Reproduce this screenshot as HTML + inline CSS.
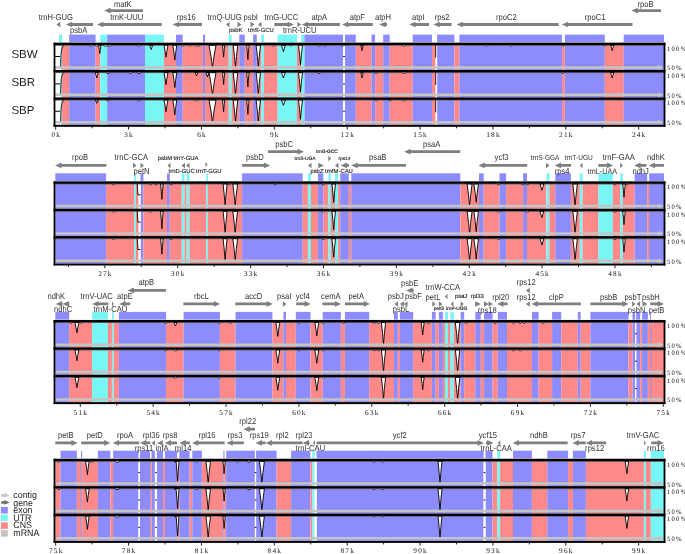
<!DOCTYPE html>
<html><head><meta charset="utf-8"><style>
html,body{margin:0;padding:0;background:#fff;width:685px;height:554px;overflow:hidden}
svg{display:block;will-change:transform}
text{font-family:"Liberation Sans",sans-serif;fill:#222;text-rendering:geometricPrecision}
.pc{font-family:"Liberation Serif",serif;font-size:6.6px;letter-spacing:1.3px;fill:#111}
.ax{font-family:"Liberation Serif",serif;font-size:7.3px;letter-spacing:1.2px;fill:#111}
.sb{font-size:11.5px;fill:#222}
.gl{fill:#333}
.lg{font-size:9.3px;fill:#222}
</style></head><body>
<svg width="685" height="554" viewBox="0 0 685 554">
<rect x="59" y="34.6" width="3.1" height="7.7" fill="#78f5f5"/>
<rect x="69.2" y="34.6" width="26.4" height="7.7" fill="#8c8cff"/>
<rect x="100.3" y="34.6" width="6.9" height="7.7" fill="#78f5f5"/>
<rect x="107.2" y="34.6" width="37.8" height="7.7" fill="#8c8cff"/>
<rect x="145" y="34.6" width="19" height="7.7" fill="#78f5f5"/>
<rect x="176" y="34.6" width="6.7" height="7.7" fill="#8c8cff"/>
<rect x="203" y="34.6" width="2.1" height="7.7" fill="#8c8cff"/>
<rect x="228.8" y="34.6" width="2.8" height="7.7" fill="#78f5f5"/>
<rect x="239.3" y="34.6" width="5.5" height="7.7" fill="#8c8cff"/>
<rect x="253.1" y="34.6" width="3.7" height="7.7" fill="#8c8cff"/>
<rect x="261.2" y="34.6" width="2.8" height="7.7" fill="#78f5f5"/>
<rect x="277.6" y="34.6" width="19.4" height="7.7" fill="#78f5f5"/>
<rect x="301.2" y="34.6" width="3.3" height="7.7" fill="#78f5f5"/>
<rect x="304.5" y="34.6" width="38.5" height="7.7" fill="#8c8cff"/>
<rect x="345" y="34.6" width="10.8" height="7.7" fill="#8c8cff"/>
<rect x="371.5" y="34.6" width="3.6" height="7.7" fill="#8c8cff"/>
<rect x="383.2" y="34.6" width="6.5" height="7.7" fill="#8c8cff"/>
<rect x="412.7" y="34.6" width="19.3" height="7.7" fill="#8c8cff"/>
<rect x="437.1" y="34.6" width="17.3" height="7.7" fill="#8c8cff"/>
<rect x="459.4" y="34.6" width="102.6" height="7.7" fill="#8c8cff"/>
<rect x="564.8" y="34.6" width="40" height="7.7" fill="#8c8cff"/>
<rect x="623.7" y="34.6" width="40.3" height="7.7" fill="#8c8cff"/>
<rect x="59" y="45.6" width="3.1" height="24.37" fill="#78f5f5"/>
<rect x="62.1" y="45.6" width="7.1" height="24.37" fill="#ff8888"/>
<rect x="69.2" y="45.6" width="26.4" height="24.37" fill="#8c8cff"/>
<rect x="95.6" y="45.6" width="4.7" height="24.37" fill="#ff8888"/>
<rect x="100.3" y="45.6" width="6.9" height="24.37" fill="#78f5f5"/>
<rect x="107.2" y="45.6" width="37.8" height="24.37" fill="#8c8cff"/>
<rect x="145" y="45.6" width="19" height="24.37" fill="#78f5f5"/>
<rect x="164" y="45.6" width="12" height="24.37" fill="#ff8888"/>
<rect x="176" y="45.6" width="6.7" height="24.37" fill="#8c8cff"/>
<rect x="182.7" y="45.6" width="20.3" height="24.37" fill="#ff8888"/>
<rect x="203" y="45.6" width="2.1" height="24.37" fill="#8c8cff"/>
<rect x="205.1" y="45.6" width="23.7" height="24.37" fill="#ff8888"/>
<rect x="228.8" y="45.6" width="2.8" height="24.37" fill="#78f5f5"/>
<rect x="231.6" y="45.6" width="7.7" height="24.37" fill="#ff8888"/>
<rect x="239.3" y="45.6" width="5.5" height="24.37" fill="#8c8cff"/>
<rect x="244.8" y="45.6" width="8.3" height="24.37" fill="#ff8888"/>
<rect x="253.1" y="45.6" width="3.7" height="24.37" fill="#8c8cff"/>
<rect x="256.8" y="45.6" width="4.4" height="24.37" fill="#ff8888"/>
<rect x="261.2" y="45.6" width="2.8" height="24.37" fill="#78f5f5"/>
<rect x="264" y="45.6" width="13.6" height="24.37" fill="#ff8888"/>
<rect x="277.6" y="45.6" width="19.4" height="24.37" fill="#78f5f5"/>
<rect x="297" y="45.6" width="4.2" height="24.37" fill="#ff8888"/>
<rect x="301.2" y="45.6" width="3.3" height="24.37" fill="#78f5f5"/>
<rect x="304.5" y="45.6" width="38.5" height="24.37" fill="#8c8cff"/>
<rect x="345" y="45.6" width="10.8" height="24.37" fill="#8c8cff"/>
<rect x="355.8" y="45.6" width="15.7" height="24.37" fill="#ff8888"/>
<rect x="371.5" y="45.6" width="3.6" height="24.37" fill="#8c8cff"/>
<rect x="375.1" y="45.6" width="8.1" height="24.37" fill="#ff8888"/>
<rect x="383.2" y="45.6" width="6.5" height="24.37" fill="#8c8cff"/>
<rect x="389.7" y="45.6" width="23" height="24.37" fill="#ff8888"/>
<rect x="412.7" y="45.6" width="19.3" height="24.37" fill="#8c8cff"/>
<rect x="432" y="45.6" width="3.6" height="24.37" fill="#ff8888"/>
<rect x="437.1" y="45.6" width="17.3" height="24.37" fill="#8c8cff"/>
<rect x="454.4" y="45.6" width="5" height="24.37" fill="#ff8888"/>
<rect x="459.4" y="45.6" width="102.6" height="24.37" fill="#8c8cff"/>
<rect x="562" y="45.6" width="2.8" height="24.37" fill="#ff8888"/>
<rect x="564.8" y="45.6" width="40" height="24.37" fill="#8c8cff"/>
<rect x="604.8" y="45.6" width="18.9" height="24.37" fill="#ff8888"/>
<rect x="623.7" y="45.6" width="40.3" height="24.37" fill="#8c8cff"/>
<rect x="55.5" y="45.6" width="5.5" height="24.37" fill="#fff"/>
<rect x="343" y="45.6" width="2" height="24.37" fill="#fff"/>
<rect x="435.6" y="45.6" width="1.5" height="24.37" fill="#fff"/>
<line x1="343.1" y1="56.51" x2="344.9" y2="56.51" stroke="#000" stroke-width="0.9"/>
<polygon points="98.6,45.2 99.3,49.6 99.8,53.6 100.3,49.6 101,45.2" fill="#fff" stroke="#000" stroke-width="0.9" stroke-linejoin="round"/>
<polygon points="149.7,45.2 150.57,47.6 151.2,49.6 151.83,47.6 152.7,45.2" fill="#fff" stroke="#000" stroke-width="0.9" stroke-linejoin="round"/>
<polygon points="164,45.2 165.16,51.4 166,57.2 166.84,51.4 168,45.2" fill="#fff" stroke="#000" stroke-width="0.9" stroke-linejoin="round"/>
<polygon points="172.8,45.2 173.96,52.9 174.8,60.2 175.64,52.9 176.8,45.2" fill="#fff" stroke="#000" stroke-width="0.9" stroke-linejoin="round"/>
<polygon points="209,45.2 211.03,56.51 212.5,67.42 213.97,56.51 216,45.2" fill="#fff" stroke="#000" stroke-width="0.9" stroke-linejoin="round"/>
<polygon points="222.5,45.2 223.14,51.35 223.6,57.1 224.06,51.35 224.7,45.2" fill="#fff" stroke="#000" stroke-width="0.9" stroke-linejoin="round"/>
<polygon points="233.2,45.2 234.53,56.51 235.5,67.42 236.47,56.51 237.8,45.2" fill="#fff" stroke="#000" stroke-width="0.9" stroke-linejoin="round"/>
<polygon points="246.7,45.2 247.4,52.6 247.9,59.6 248.4,52.6 249.1,45.2" fill="#fff" stroke="#000" stroke-width="0.9" stroke-linejoin="round"/>
<polygon points="256.1,45.2 257.38,56.51 258.3,67.42 259.22,56.51 260.5,45.2" fill="#fff" stroke="#000" stroke-width="0.9" stroke-linejoin="round"/>
<polygon points="281.4,45.2 282.56,48.6 283.4,51.6 284.24,48.6 285.4,45.2" fill="#fff" stroke="#000" stroke-width="0.9" stroke-linejoin="round"/>
<polygon points="298.5,45.2 299.66,55.1 300.5,64.6 301.34,55.1 302.5,45.2" fill="#fff" stroke="#000" stroke-width="0.9" stroke-linejoin="round"/>
<polygon points="360.8,45.2 361.5,48.1 362,50.6 362.5,48.1 363.2,45.2" fill="#fff" stroke="#000" stroke-width="0.9" stroke-linejoin="round"/>
<polygon points="610.6,45.2 611.53,48.1 612.2,50.6 612.87,48.1 613.8,45.2" fill="#fff" stroke="#000" stroke-width="0.9" stroke-linejoin="round"/>
<line x1="435.7" y1="45.1" x2="435.7" y2="57.6" stroke="#000" stroke-width="0.9"/>
<path d="M54.6,67.42 L60.6,67.42 C61.0,51.6 61.2,47.1 64,45.6" fill="none" stroke="#000" stroke-width="0.9"/>
<line x1="54.6" y1="56.51" x2="60" y2="56.51" stroke="#000" stroke-width="1"/>
<polygon points="54.6,66.17 658.2,66.17 658.2,65.02 664.5,67.42 658.2,69.82 658.2,68.67 54.6,68.67" fill="#c4c4c4"/>
<text x="666.9" y="50.5" class="pc">100%</text>
<text x="666.9" y="70.42" class="pc">50%</text>
<rect x="59" y="72.97" width="3.1" height="24.37" fill="#78f5f5"/>
<rect x="62.1" y="72.97" width="7.1" height="24.37" fill="#ff8888"/>
<rect x="69.2" y="72.97" width="26.4" height="24.37" fill="#8c8cff"/>
<rect x="95.6" y="72.97" width="4.7" height="24.37" fill="#ff8888"/>
<rect x="100.3" y="72.97" width="6.9" height="24.37" fill="#78f5f5"/>
<rect x="107.2" y="72.97" width="37.8" height="24.37" fill="#8c8cff"/>
<rect x="145" y="72.97" width="19" height="24.37" fill="#78f5f5"/>
<rect x="164" y="72.97" width="12" height="24.37" fill="#ff8888"/>
<rect x="176" y="72.97" width="6.7" height="24.37" fill="#8c8cff"/>
<rect x="182.7" y="72.97" width="20.3" height="24.37" fill="#ff8888"/>
<rect x="203" y="72.97" width="2.1" height="24.37" fill="#8c8cff"/>
<rect x="205.1" y="72.97" width="23.7" height="24.37" fill="#ff8888"/>
<rect x="228.8" y="72.97" width="2.8" height="24.37" fill="#78f5f5"/>
<rect x="231.6" y="72.97" width="7.7" height="24.37" fill="#ff8888"/>
<rect x="239.3" y="72.97" width="5.5" height="24.37" fill="#8c8cff"/>
<rect x="244.8" y="72.97" width="8.3" height="24.37" fill="#ff8888"/>
<rect x="253.1" y="72.97" width="3.7" height="24.37" fill="#8c8cff"/>
<rect x="256.8" y="72.97" width="4.4" height="24.37" fill="#ff8888"/>
<rect x="261.2" y="72.97" width="2.8" height="24.37" fill="#78f5f5"/>
<rect x="264" y="72.97" width="13.6" height="24.37" fill="#ff8888"/>
<rect x="277.6" y="72.97" width="19.4" height="24.37" fill="#78f5f5"/>
<rect x="297" y="72.97" width="4.2" height="24.37" fill="#ff8888"/>
<rect x="301.2" y="72.97" width="3.3" height="24.37" fill="#78f5f5"/>
<rect x="304.5" y="72.97" width="38.5" height="24.37" fill="#8c8cff"/>
<rect x="345" y="72.97" width="10.8" height="24.37" fill="#8c8cff"/>
<rect x="355.8" y="72.97" width="15.7" height="24.37" fill="#ff8888"/>
<rect x="371.5" y="72.97" width="3.6" height="24.37" fill="#8c8cff"/>
<rect x="375.1" y="72.97" width="8.1" height="24.37" fill="#ff8888"/>
<rect x="383.2" y="72.97" width="6.5" height="24.37" fill="#8c8cff"/>
<rect x="389.7" y="72.97" width="23" height="24.37" fill="#ff8888"/>
<rect x="412.7" y="72.97" width="19.3" height="24.37" fill="#8c8cff"/>
<rect x="432" y="72.97" width="3.6" height="24.37" fill="#ff8888"/>
<rect x="437.1" y="72.97" width="17.3" height="24.37" fill="#8c8cff"/>
<rect x="454.4" y="72.97" width="5" height="24.37" fill="#ff8888"/>
<rect x="459.4" y="72.97" width="102.6" height="24.37" fill="#8c8cff"/>
<rect x="562" y="72.97" width="2.8" height="24.37" fill="#ff8888"/>
<rect x="564.8" y="72.97" width="40" height="24.37" fill="#8c8cff"/>
<rect x="604.8" y="72.97" width="18.9" height="24.37" fill="#ff8888"/>
<rect x="623.7" y="72.97" width="40.3" height="24.37" fill="#8c8cff"/>
<rect x="55.5" y="72.97" width="5.5" height="24.37" fill="#fff"/>
<rect x="343" y="72.97" width="2" height="24.37" fill="#fff"/>
<rect x="435.6" y="72.97" width="1.5" height="24.37" fill="#fff"/>
<line x1="343.1" y1="83.88" x2="344.9" y2="83.88" stroke="#000" stroke-width="0.9"/>
<polygon points="95.3,72.57 96.17,75.47 96.8,77.97 97.43,75.47 98.3,72.57" fill="#fff" stroke="#000" stroke-width="0.9" stroke-linejoin="round"/>
<polygon points="164,72.57 165.16,78.87 166,84.77 166.84,78.87 168,72.57" fill="#fff" stroke="#000" stroke-width="0.9" stroke-linejoin="round"/>
<polygon points="172.8,72.57 173.96,80.32 174.8,87.67 175.64,80.32 176.8,72.57" fill="#fff" stroke="#000" stroke-width="0.9" stroke-linejoin="round"/>
<polygon points="195,72.57 195.87,74.47 196.5,75.97 197.13,74.47 198,72.57" fill="#fff" stroke="#000" stroke-width="0.9" stroke-linejoin="round"/>
<polygon points="206.3,72.57 207.17,74.47 207.8,75.97 208.43,74.47 209.3,72.57" fill="#fff" stroke="#000" stroke-width="0.9" stroke-linejoin="round"/>
<polygon points="205.9,72.57 206.77,74.97 207.4,76.97 208.03,74.97 208.9,72.57" fill="#fff" stroke="#000" stroke-width="0.9" stroke-linejoin="round"/>
<polygon points="209,72.57 211.03,83.88 212.5,94.79 213.97,83.88 216,72.57" fill="#fff" stroke="#000" stroke-width="0.9" stroke-linejoin="round"/>
<polygon points="222.5,72.57 223.14,78.72 223.6,84.47 224.06,78.72 224.7,72.57" fill="#fff" stroke="#000" stroke-width="0.9" stroke-linejoin="round"/>
<polygon points="233.2,72.57 234.53,83.88 235.5,94.79 236.47,83.88 237.8,72.57" fill="#fff" stroke="#000" stroke-width="0.9" stroke-linejoin="round"/>
<polygon points="246.7,72.57 247.4,79.97 247.9,86.97 248.4,79.97 249.1,72.57" fill="#fff" stroke="#000" stroke-width="0.9" stroke-linejoin="round"/>
<polygon points="256.1,72.57 257.38,83.88 258.3,94.79 259.22,83.88 260.5,72.57" fill="#fff" stroke="#000" stroke-width="0.9" stroke-linejoin="round"/>
<polygon points="281.4,72.57 282.56,75.47 283.4,77.97 284.24,75.47 285.4,72.57" fill="#fff" stroke="#000" stroke-width="0.9" stroke-linejoin="round"/>
<polygon points="298.5,72.57 299.66,82.47 300.5,91.97 301.34,82.47 302.5,72.57" fill="#fff" stroke="#000" stroke-width="0.9" stroke-linejoin="round"/>
<polygon points="360.8,72.57 361.5,75.47 362,77.97 362.5,75.47 363.2,72.57" fill="#fff" stroke="#000" stroke-width="0.9" stroke-linejoin="round"/>
<polygon points="610.6,72.57 611.53,75.47 612.2,77.97 612.87,75.47 613.8,72.57" fill="#fff" stroke="#000" stroke-width="0.9" stroke-linejoin="round"/>
<line x1="435.7" y1="72.47" x2="435.7" y2="84.97" stroke="#000" stroke-width="0.9"/>
<path d="M54.6,94.79 L60.6,94.79 C61.0,78.97 61.2,74.47 64,72.97" fill="none" stroke="#000" stroke-width="0.9"/>
<line x1="54.6" y1="83.88" x2="60" y2="83.88" stroke="#000" stroke-width="1"/>
<polygon points="54.6,93.54 658.2,93.54 658.2,92.39 664.5,94.79 658.2,97.19 658.2,96.04 54.6,96.04" fill="#c4c4c4"/>
<text x="666.9" y="77.87" class="pc">100%</text>
<text x="666.9" y="97.79" class="pc">50%</text>
<rect x="59" y="100.34" width="3.1" height="24.37" fill="#78f5f5"/>
<rect x="62.1" y="100.34" width="7.1" height="24.37" fill="#ff8888"/>
<rect x="69.2" y="100.34" width="26.4" height="24.37" fill="#8c8cff"/>
<rect x="95.6" y="100.34" width="4.7" height="24.37" fill="#ff8888"/>
<rect x="100.3" y="100.34" width="6.9" height="24.37" fill="#78f5f5"/>
<rect x="107.2" y="100.34" width="37.8" height="24.37" fill="#8c8cff"/>
<rect x="145" y="100.34" width="19" height="24.37" fill="#78f5f5"/>
<rect x="164" y="100.34" width="12" height="24.37" fill="#ff8888"/>
<rect x="176" y="100.34" width="6.7" height="24.37" fill="#8c8cff"/>
<rect x="182.7" y="100.34" width="20.3" height="24.37" fill="#ff8888"/>
<rect x="203" y="100.34" width="2.1" height="24.37" fill="#8c8cff"/>
<rect x="205.1" y="100.34" width="23.7" height="24.37" fill="#ff8888"/>
<rect x="228.8" y="100.34" width="2.8" height="24.37" fill="#78f5f5"/>
<rect x="231.6" y="100.34" width="7.7" height="24.37" fill="#ff8888"/>
<rect x="239.3" y="100.34" width="5.5" height="24.37" fill="#8c8cff"/>
<rect x="244.8" y="100.34" width="8.3" height="24.37" fill="#ff8888"/>
<rect x="253.1" y="100.34" width="3.7" height="24.37" fill="#8c8cff"/>
<rect x="256.8" y="100.34" width="4.4" height="24.37" fill="#ff8888"/>
<rect x="261.2" y="100.34" width="2.8" height="24.37" fill="#78f5f5"/>
<rect x="264" y="100.34" width="13.6" height="24.37" fill="#ff8888"/>
<rect x="277.6" y="100.34" width="19.4" height="24.37" fill="#78f5f5"/>
<rect x="297" y="100.34" width="4.2" height="24.37" fill="#ff8888"/>
<rect x="301.2" y="100.34" width="3.3" height="24.37" fill="#78f5f5"/>
<rect x="304.5" y="100.34" width="38.5" height="24.37" fill="#8c8cff"/>
<rect x="345" y="100.34" width="10.8" height="24.37" fill="#8c8cff"/>
<rect x="355.8" y="100.34" width="15.7" height="24.37" fill="#ff8888"/>
<rect x="371.5" y="100.34" width="3.6" height="24.37" fill="#8c8cff"/>
<rect x="375.1" y="100.34" width="8.1" height="24.37" fill="#ff8888"/>
<rect x="383.2" y="100.34" width="6.5" height="24.37" fill="#8c8cff"/>
<rect x="389.7" y="100.34" width="23" height="24.37" fill="#ff8888"/>
<rect x="412.7" y="100.34" width="19.3" height="24.37" fill="#8c8cff"/>
<rect x="432" y="100.34" width="3.6" height="24.37" fill="#ff8888"/>
<rect x="437.1" y="100.34" width="17.3" height="24.37" fill="#8c8cff"/>
<rect x="454.4" y="100.34" width="5" height="24.37" fill="#ff8888"/>
<rect x="459.4" y="100.34" width="102.6" height="24.37" fill="#8c8cff"/>
<rect x="562" y="100.34" width="2.8" height="24.37" fill="#ff8888"/>
<rect x="564.8" y="100.34" width="40" height="24.37" fill="#8c8cff"/>
<rect x="604.8" y="100.34" width="18.9" height="24.37" fill="#ff8888"/>
<rect x="623.7" y="100.34" width="40.3" height="24.37" fill="#8c8cff"/>
<rect x="55.5" y="100.34" width="5.5" height="24.37" fill="#fff"/>
<rect x="343" y="100.34" width="2" height="24.37" fill="#fff"/>
<rect x="435.6" y="100.34" width="1.5" height="24.37" fill="#fff"/>
<line x1="343.1" y1="111.25" x2="344.9" y2="111.25" stroke="#000" stroke-width="0.9"/>
<polygon points="95.3,99.94 96.17,101.84 96.8,103.34 97.43,101.84 98.3,99.94" fill="#fff" stroke="#000" stroke-width="0.9" stroke-linejoin="round"/>
<polygon points="164,99.94 165.16,106.04 166,111.74 166.84,106.04 168,99.94" fill="#fff" stroke="#000" stroke-width="0.9" stroke-linejoin="round"/>
<polygon points="172.8,99.94 173.96,107.64 174.8,114.94 175.64,107.64 176.8,99.94" fill="#fff" stroke="#000" stroke-width="0.9" stroke-linejoin="round"/>
<polygon points="209,99.94 211.03,111.25 212.5,122.16 213.97,111.25 216,99.94" fill="#fff" stroke="#000" stroke-width="0.9" stroke-linejoin="round"/>
<polygon points="222.5,99.94 223.14,106.09 223.6,111.84 224.06,106.09 224.7,99.94" fill="#fff" stroke="#000" stroke-width="0.9" stroke-linejoin="round"/>
<polygon points="233.2,99.94 234.53,111.25 235.5,122.16 236.47,111.25 237.8,99.94" fill="#fff" stroke="#000" stroke-width="0.9" stroke-linejoin="round"/>
<polygon points="246.7,99.94 247.4,107.34 247.9,114.34 248.4,107.34 249.1,99.94" fill="#fff" stroke="#000" stroke-width="0.9" stroke-linejoin="round"/>
<polygon points="256.1,99.94 257.38,111.25 258.3,122.16 259.22,111.25 260.5,99.94" fill="#fff" stroke="#000" stroke-width="0.9" stroke-linejoin="round"/>
<polygon points="281.4,99.94 282.56,102.84 283.4,105.34 284.24,102.84 285.4,99.94" fill="#fff" stroke="#000" stroke-width="0.9" stroke-linejoin="round"/>
<polygon points="298.5,99.94 299.66,109.84 300.5,119.34 301.34,109.84 302.5,99.94" fill="#fff" stroke="#000" stroke-width="0.9" stroke-linejoin="round"/>
<line x1="435.7" y1="99.84" x2="435.7" y2="112.34" stroke="#000" stroke-width="0.9"/>
<path d="M54.6,122.16 L60.6,122.16 C61.0,106.34 61.2,101.84 64,100.34" fill="none" stroke="#000" stroke-width="0.9"/>
<line x1="54.6" y1="111.25" x2="60" y2="111.25" stroke="#000" stroke-width="1"/>
<polygon points="54.6,120.91 658.2,120.91 658.2,119.76 664.5,122.16 658.2,124.56 658.2,123.41 54.6,123.41" fill="#c4c4c4"/>
<text x="666.9" y="105.24" class="pc">100%</text>
<text x="666.9" y="125.16" class="pc">50%</text>
<rect x="53.6" y="42.65" width="611.8" height="2.5" fill="#000"/>
<rect x="53.6" y="45.15" width="611.8" height="0.55" fill="#000" opacity="0.75"/>
<rect x="53.6" y="70.02" width="611.8" height="2.5" fill="#000"/>
<rect x="53.6" y="72.52" width="611.8" height="0.55" fill="#000" opacity="0.75"/>
<rect x="53.6" y="97.39" width="611.8" height="2.5" fill="#000"/>
<rect x="53.6" y="99.89" width="611.8" height="0.55" fill="#000" opacity="0.75"/>
<rect x="53.6" y="124.81" width="611.8" height="2" fill="#000"/>
<rect x="53.6" y="42.7" width="1.8" height="84.01" fill="#000"/>
<rect x="663.6" y="42.7" width="1.8" height="84.01" fill="#000"/>
<ellipse cx="91" cy="45.4" rx="1.6" ry="0.75" fill="#fff" stroke="#000" stroke-width="0.75"/>
<ellipse cx="96.8" cy="45.4" rx="1.6" ry="0.75" fill="#fff" stroke="#000" stroke-width="0.75"/>
<ellipse cx="106" cy="45.4" rx="2.6" ry="0.75" fill="#fff" stroke="#000" stroke-width="0.75"/>
<ellipse cx="109.6" cy="45.4" rx="1.6" ry="0.75" fill="#fff" stroke="#000" stroke-width="0.75"/>
<ellipse cx="138.8" cy="45.4" rx="1.6" ry="0.75" fill="#fff" stroke="#000" stroke-width="0.75"/>
<ellipse cx="182.7" cy="45.4" rx="1.1" ry="0.75" fill="#fff" stroke="#000" stroke-width="0.75"/>
<ellipse cx="189.7" cy="45.4" rx="1.1" ry="0.75" fill="#fff" stroke="#000" stroke-width="0.75"/>
<ellipse cx="196.5" cy="45.4" rx="1.6" ry="0.75" fill="#fff" stroke="#000" stroke-width="0.75"/>
<ellipse cx="198.8" cy="45.4" rx="1.1" ry="0.75" fill="#fff" stroke="#000" stroke-width="0.75"/>
<ellipse cx="273.6" cy="45.4" rx="1.1" ry="0.75" fill="#fff" stroke="#000" stroke-width="0.75"/>
<ellipse cx="291" cy="45.4" rx="1.1" ry="0.75" fill="#fff" stroke="#000" stroke-width="0.75"/>
<ellipse cx="319" cy="45.4" rx="1.1" ry="0.75" fill="#fff" stroke="#000" stroke-width="0.75"/>
<ellipse cx="325" cy="45.4" rx="1.1" ry="0.75" fill="#fff" stroke="#000" stroke-width="0.75"/>
<ellipse cx="343" cy="45.4" rx="1.1" ry="0.75" fill="#fff" stroke="#000" stroke-width="0.75"/>
<ellipse cx="403.7" cy="45.4" rx="1.6" ry="0.75" fill="#fff" stroke="#000" stroke-width="0.75"/>
<ellipse cx="486.7" cy="45.4" rx="1.1" ry="0.75" fill="#fff" stroke="#000" stroke-width="0.75"/>
<ellipse cx="510.8" cy="45.4" rx="1.1" ry="0.75" fill="#fff" stroke="#000" stroke-width="0.75"/>
<ellipse cx="563" cy="45.4" rx="1.1" ry="0.75" fill="#fff" stroke="#000" stroke-width="0.75"/>
<ellipse cx="604.9" cy="45.4" rx="1.1" ry="0.75" fill="#fff" stroke="#000" stroke-width="0.75"/>
<ellipse cx="108" cy="72.77" rx="1.6" ry="0.75" fill="#fff" stroke="#000" stroke-width="0.75"/>
<ellipse cx="130.6" cy="72.77" rx="1.3" ry="0.75" fill="#fff" stroke="#000" stroke-width="0.75"/>
<ellipse cx="138.8" cy="72.77" rx="1.6" ry="0.75" fill="#fff" stroke="#000" stroke-width="0.75"/>
<ellipse cx="319" cy="72.77" rx="1.1" ry="0.75" fill="#fff" stroke="#000" stroke-width="0.75"/>
<ellipse cx="376" cy="72.77" rx="1.1" ry="0.75" fill="#fff" stroke="#000" stroke-width="0.75"/>
<ellipse cx="403.7" cy="72.77" rx="1.6" ry="0.75" fill="#fff" stroke="#000" stroke-width="0.75"/>
<ellipse cx="563" cy="72.77" rx="1.1" ry="0.75" fill="#fff" stroke="#000" stroke-width="0.75"/>
<ellipse cx="108" cy="100.14" rx="1.6" ry="0.75" fill="#fff" stroke="#000" stroke-width="0.75"/>
<ellipse cx="138.8" cy="100.14" rx="1.6" ry="0.75" fill="#fff" stroke="#000" stroke-width="0.75"/>
<ellipse cx="196.5" cy="100.14" rx="1.6" ry="0.75" fill="#fff" stroke="#000" stroke-width="0.75"/>
<ellipse cx="376" cy="100.14" rx="1.1" ry="0.75" fill="#fff" stroke="#000" stroke-width="0.75"/>
<ellipse cx="390" cy="100.14" rx="1.1" ry="0.75" fill="#fff" stroke="#000" stroke-width="0.75"/>
<ellipse cx="403.7" cy="100.14" rx="1.6" ry="0.75" fill="#fff" stroke="#000" stroke-width="0.75"/>
<line x1="55.7" y1="126.81" x2="55.7" y2="129.51" stroke="#000" stroke-width="0.9"/>
<text x="56.25" y="137.41" class="ax" text-anchor="middle">0k</text>
<line x1="92.14" y1="126.81" x2="92.14" y2="128.31" stroke="#000" stroke-width="0.9"/>
<line x1="128.57" y1="126.81" x2="128.57" y2="129.51" stroke="#000" stroke-width="0.9"/>
<text x="129.12" y="137.41" class="ax" text-anchor="middle">3k</text>
<line x1="165" y1="126.81" x2="165" y2="128.31" stroke="#000" stroke-width="0.9"/>
<line x1="201.44" y1="126.81" x2="201.44" y2="129.51" stroke="#000" stroke-width="0.9"/>
<text x="201.99" y="137.41" class="ax" text-anchor="middle">6k</text>
<line x1="237.88" y1="126.81" x2="237.88" y2="128.31" stroke="#000" stroke-width="0.9"/>
<line x1="274.31" y1="126.81" x2="274.31" y2="129.51" stroke="#000" stroke-width="0.9"/>
<text x="274.86" y="137.41" class="ax" text-anchor="middle">9k</text>
<line x1="310.75" y1="126.81" x2="310.75" y2="128.31" stroke="#000" stroke-width="0.9"/>
<line x1="347.18" y1="126.81" x2="347.18" y2="129.51" stroke="#000" stroke-width="0.9"/>
<text x="347.73" y="137.41" class="ax" text-anchor="middle">12k</text>
<line x1="383.61" y1="126.81" x2="383.61" y2="128.31" stroke="#000" stroke-width="0.9"/>
<line x1="420.05" y1="126.81" x2="420.05" y2="129.51" stroke="#000" stroke-width="0.9"/>
<text x="420.6" y="137.41" class="ax" text-anchor="middle">15k</text>
<line x1="456.48" y1="126.81" x2="456.48" y2="128.31" stroke="#000" stroke-width="0.9"/>
<line x1="492.92" y1="126.81" x2="492.92" y2="129.51" stroke="#000" stroke-width="0.9"/>
<text x="493.47" y="137.41" class="ax" text-anchor="middle">18k</text>
<line x1="529.36" y1="126.81" x2="529.36" y2="128.31" stroke="#000" stroke-width="0.9"/>
<line x1="565.79" y1="126.81" x2="565.79" y2="129.51" stroke="#000" stroke-width="0.9"/>
<text x="566.34" y="137.41" class="ax" text-anchor="middle">21k</text>
<line x1="602.23" y1="126.81" x2="602.23" y2="128.31" stroke="#000" stroke-width="0.9"/>
<line x1="638.66" y1="126.81" x2="638.66" y2="129.51" stroke="#000" stroke-width="0.9"/>
<text x="639.21" y="137.41" class="ax" text-anchor="middle">24k</text>
<polygon points="104.3,10.6 110.6,7.75 110.6,9.2 143,9.2 143,12 110.6,12 110.6,13.45" fill="#7f7f7f"/>
<polygon points="631.5,10.6 637.8,7.75 637.8,9.2 661,9.2 661,12 637.8,12 637.8,13.45" fill="#7f7f7f"/>
<polygon points="56.4,24.5 60.3,21.75 60.3,27.25" fill="#7f7f7f"/>
<polygon points="65.8,24.5 72.1,21.65 72.1,23.1 93,23.1 93,25.9 72.1,25.9 72.1,27.35" fill="#7f7f7f"/>
<polygon points="97,24.5 103.3,21.65 103.3,23.1 161.7,23.1 161.7,25.9 103.3,25.9 103.3,27.35" fill="#7f7f7f"/>
<polygon points="172.6,24.5 178.9,21.65 178.9,23.1 202,23.1 202,25.9 178.9,25.9 178.9,27.35" fill="#7f7f7f"/>
<polygon points="226,24.5 229.5,21.75 229.5,27.25" fill="#7f7f7f"/>
<polygon points="241.5,24.5 237.5,21.75 237.5,27.25" fill="#7f7f7f"/>
<polygon points="254.5,24.5 250.5,21.75 250.5,27.25" fill="#7f7f7f"/>
<polygon points="258,24.5 261.5,21.75 261.5,27.25" fill="#7f7f7f"/>
<polygon points="294,24.5 287.7,21.65 287.7,23.1 274.3,23.1 274.3,25.9 287.7,25.9 287.7,27.35" fill="#7f7f7f"/>
<polygon points="301,24.5 297.5,21.75 297.5,27.25" fill="#7f7f7f"/>
<polygon points="301.7,24.5 308,21.65 308,23.1 339.9,23.1 339.9,25.9 308,25.9 308,27.35" fill="#7f7f7f"/>
<polygon points="342,24.5 348.3,21.65 348.3,23.1 372.7,23.1 372.7,25.9 348.3,25.9 348.3,27.35" fill="#7f7f7f"/>
<polygon points="379.3,24.5 385.6,21.65 385.6,23.1 387,23.1 387,25.9 385.6,25.9 385.6,27.35" fill="#7f7f7f"/>
<polygon points="409.3,24.5 415.6,21.65 415.6,23.1 429,23.1 429,25.9 415.6,25.9 415.6,27.35" fill="#7f7f7f"/>
<polygon points="433.4,24.5 439.7,21.65 439.7,23.1 451.5,23.1 451.5,25.9 439.7,25.9 439.7,27.35" fill="#7f7f7f"/>
<polygon points="456.6,24.5 462.9,21.65 462.9,23.1 558.6,23.1 558.6,25.9 462.9,25.9 462.9,27.35" fill="#7f7f7f"/>
<polygon points="561.8,24.5 568.1,21.65 568.1,23.1 632.5,23.1 632.5,25.9 568.1,25.9 568.1,27.35" fill="#7f7f7f"/>
<text transform="translate(113.9,6.8) scale(0.885,1)" font-size="8.61" class="gl">matK</text>
<text transform="translate(637.4,6.8) scale(0.885,1)" font-size="8.61" class="gl">rpoB</text>
<text transform="translate(38.7,19.9) scale(0.885,1)" font-size="8.61" class="gl">trnH-GUG</text>
<text transform="translate(110.2,19.9) scale(0.885,1)" font-size="8.61" class="gl">trnK-UUU</text>
<text transform="translate(176.6,19.9) scale(0.885,1)" font-size="8.61" class="gl">rps16</text>
<text transform="translate(207.5,19.9) scale(0.885,1)" font-size="8.61" class="gl">trnQ-UUG</text>
<text transform="translate(243.6,19.9) scale(0.885,1)" font-size="8.61" class="gl">psbI</text>
<text transform="translate(264.4,19.9) scale(0.885,1)" font-size="8.61" class="gl">trnG-UCC</text>
<text transform="translate(311.5,19.9) scale(0.885,1)" font-size="8.61" class="gl">atpA</text>
<text transform="translate(349.7,19.9) scale(0.885,1)" font-size="8.61" class="gl">atpF</text>
<text transform="translate(374.9,19.9) scale(0.885,1)" font-size="8.61" class="gl">atpH</text>
<text transform="translate(412,19.9) scale(0.885,1)" font-size="8.61" class="gl">atpI</text>
<text transform="translate(434.7,19.9) scale(0.885,1)" font-size="8.61" class="gl">rps2</text>
<text transform="translate(496,19.9) scale(0.885,1)" font-size="8.61" class="gl">rpoC2</text>
<text transform="translate(584.8,19.9) scale(0.885,1)" font-size="8.61" class="gl">rpoC1</text>
<text transform="translate(70,32.8) scale(0.885,1)" font-size="8.61" class="gl">psbA</text>
<text x="229" y="32" font-size="5.9" fill="#111" stroke="#111" stroke-width="0.12">psbK</text>
<text x="248" y="32" font-size="5.9" fill="#111" stroke="#111" stroke-width="0.12">trnS-GCU</text>
<text transform="translate(283,33) scale(0.885,1)" font-size="8.61" class="gl">trnR-UCU</text>
<rect x="55.3" y="173.3" width="50.8" height="7.7" fill="#8c8cff"/>
<rect x="134.1" y="173.3" width="1.8" height="7.7" fill="#78f5f5"/>
<rect x="140.5" y="173.3" width="2.9" height="7.7" fill="#8c8cff"/>
<rect x="167" y="173.3" width="2.8" height="7.7" fill="#8c8cff"/>
<rect x="181.8" y="173.3" width="2.7" height="7.7" fill="#78f5f5"/>
<rect x="186.6" y="173.3" width="2.9" height="7.7" fill="#78f5f5"/>
<rect x="206.1" y="173.3" width="1.7" height="7.7" fill="#78f5f5"/>
<rect x="242.1" y="173.3" width="60.6" height="7.7" fill="#8c8cff"/>
<rect x="307.9" y="173.3" width="3" height="7.7" fill="#78f5f5"/>
<rect x="317.9" y="173.3" width="5.4" height="7.7" fill="#8c8cff"/>
<rect x="328.4" y="173.3" width="2.5" height="7.7" fill="#78f5f5"/>
<rect x="335" y="173.3" width="3.1" height="7.7" fill="#78f5f5"/>
<rect x="340.2" y="173.3" width="8.6" height="7.7" fill="#8c8cff"/>
<rect x="351.3" y="173.3" width="109" height="7.7" fill="#8c8cff"/>
<rect x="479" y="173.3" width="4.7" height="7.7" fill="#8c8cff"/>
<rect x="499.5" y="173.3" width="6.6" height="7.7" fill="#8c8cff"/>
<rect x="523.1" y="173.3" width="3.9" height="7.7" fill="#8c8cff"/>
<rect x="546.4" y="173.3" width="2.9" height="7.7" fill="#78f5f5"/>
<rect x="555.3" y="173.3" width="15.6" height="7.7" fill="#8c8cff"/>
<rect x="579.8" y="173.3" width="2.8" height="7.7" fill="#78f5f5"/>
<rect x="598.5" y="173.3" width="14.3" height="7.7" fill="#78f5f5"/>
<rect x="620.2" y="173.3" width="2.6" height="7.7" fill="#78f5f5"/>
<rect x="634.6" y="173.3" width="12.6" height="7.7" fill="#8c8cff"/>
<rect x="649.1" y="173.3" width="14.9" height="7.7" fill="#8c8cff"/>
<rect x="55.3" y="184.3" width="50.8" height="24.37" fill="#8c8cff"/>
<rect x="106.1" y="184.3" width="28" height="24.37" fill="#ff8888"/>
<rect x="134.1" y="184.3" width="1.8" height="24.37" fill="#78f5f5"/>
<rect x="135.9" y="184.3" width="2.7" height="24.37" fill="#ff8888"/>
<rect x="140.5" y="184.3" width="2.9" height="24.37" fill="#8c8cff"/>
<rect x="143.4" y="184.3" width="23.6" height="24.37" fill="#ff8888"/>
<rect x="167" y="184.3" width="2.8" height="24.37" fill="#8c8cff"/>
<rect x="169.8" y="184.3" width="12" height="24.37" fill="#ff8888"/>
<rect x="181.8" y="184.3" width="2.7" height="24.37" fill="#78f5f5"/>
<rect x="184.5" y="184.3" width="2.1" height="24.37" fill="#ff8888"/>
<rect x="186.6" y="184.3" width="2.9" height="24.37" fill="#78f5f5"/>
<rect x="189.5" y="184.3" width="16.6" height="24.37" fill="#ff8888"/>
<rect x="206.1" y="184.3" width="1.7" height="24.37" fill="#78f5f5"/>
<rect x="207.8" y="184.3" width="34.3" height="24.37" fill="#ff8888"/>
<rect x="242.1" y="184.3" width="60.6" height="24.37" fill="#8c8cff"/>
<rect x="302.7" y="184.3" width="5.2" height="24.37" fill="#ff8888"/>
<rect x="307.9" y="184.3" width="3" height="24.37" fill="#78f5f5"/>
<rect x="310.9" y="184.3" width="7" height="24.37" fill="#ff8888"/>
<rect x="317.9" y="184.3" width="5.4" height="24.37" fill="#8c8cff"/>
<rect x="323.3" y="184.3" width="5.1" height="24.37" fill="#ff8888"/>
<rect x="328.4" y="184.3" width="2.5" height="24.37" fill="#78f5f5"/>
<rect x="330.9" y="184.3" width="4.1" height="24.37" fill="#ff8888"/>
<rect x="335" y="184.3" width="3.1" height="24.37" fill="#78f5f5"/>
<rect x="338.1" y="184.3" width="2.1" height="24.37" fill="#ff8888"/>
<rect x="340.2" y="184.3" width="8.6" height="24.37" fill="#8c8cff"/>
<rect x="348.8" y="184.3" width="2.5" height="24.37" fill="#ff8888"/>
<rect x="351.3" y="184.3" width="109" height="24.37" fill="#8c8cff"/>
<rect x="460.3" y="184.3" width="18.7" height="24.37" fill="#ff8888"/>
<rect x="479" y="184.3" width="4.7" height="24.37" fill="#8c8cff"/>
<rect x="483.7" y="184.3" width="15.8" height="24.37" fill="#ff8888"/>
<rect x="499.5" y="184.3" width="6.6" height="24.37" fill="#8c8cff"/>
<rect x="506.1" y="184.3" width="17" height="24.37" fill="#ff8888"/>
<rect x="523.1" y="184.3" width="3.9" height="24.37" fill="#8c8cff"/>
<rect x="527" y="184.3" width="19.4" height="24.37" fill="#ff8888"/>
<rect x="546.4" y="184.3" width="2.9" height="24.37" fill="#78f5f5"/>
<rect x="549.3" y="184.3" width="6" height="24.37" fill="#ff8888"/>
<rect x="555.3" y="184.3" width="15.6" height="24.37" fill="#8c8cff"/>
<rect x="570.9" y="184.3" width="8.9" height="24.37" fill="#ff8888"/>
<rect x="579.8" y="184.3" width="2.8" height="24.37" fill="#78f5f5"/>
<rect x="582.6" y="184.3" width="15.9" height="24.37" fill="#ff8888"/>
<rect x="598.5" y="184.3" width="14.3" height="24.37" fill="#78f5f5"/>
<rect x="612.8" y="184.3" width="7.4" height="24.37" fill="#ff8888"/>
<rect x="620.2" y="184.3" width="2.6" height="24.37" fill="#78f5f5"/>
<rect x="622.8" y="184.3" width="11.8" height="24.37" fill="#ff8888"/>
<rect x="634.6" y="184.3" width="12.6" height="24.37" fill="#8c8cff"/>
<rect x="647.2" y="184.3" width="1.9" height="24.37" fill="#ff8888"/>
<rect x="649.1" y="184.3" width="14.9" height="24.37" fill="#8c8cff"/>
<rect x="138.6" y="184.3" width="1.9" height="24.37" fill="#fff"/>
<polygon points="160.6,183.9 161.35,191.8 161.9,199.3 162.45,191.8 163.2,183.9" fill="#fff" stroke="#000" stroke-width="0.9" stroke-linejoin="round"/>
<polygon points="223.1,183.9 224.26,195.21 225.1,206.12 225.94,195.21 227.1,183.9" fill="#fff" stroke="#000" stroke-width="0.9" stroke-linejoin="round"/>
<polygon points="232.8,183.9 234.19,195.21 235.2,206.12 236.21,195.21 237.6,183.9" fill="#fff" stroke="#000" stroke-width="0.9" stroke-linejoin="round"/>
<polygon points="331.9,183.9 332.94,193.3 333.7,202.3 334.46,193.3 335.5,183.9" fill="#fff" stroke="#000" stroke-width="0.9" stroke-linejoin="round"/>
<polygon points="467.1,183.9 468.55,195.21 469.6,206.12 470.65,195.21 472.1,183.9" fill="#fff" stroke="#000" stroke-width="0.9" stroke-linejoin="round"/>
<polygon points="473.9,183.9 475.23,193.3 476.2,202.3 477.17,193.3 478.5,183.9" fill="#fff" stroke="#000" stroke-width="0.9" stroke-linejoin="round"/>
<polygon points="539.9,183.9 541.06,187.3 541.9,190.3 542.74,187.3 543.9,183.9" fill="#fff" stroke="#000" stroke-width="0.9" stroke-linejoin="round"/>
<polygon points="572.8,183.9 574.13,195.21 575.1,206.12 576.07,195.21 577.4,183.9" fill="#fff" stroke="#000" stroke-width="0.9" stroke-linejoin="round"/>
<polygon points="622.7,183.9 623.45,190.8 624,197.3 624.55,190.8 625.3,183.9" fill="#fff" stroke="#000" stroke-width="0.9" stroke-linejoin="round"/>
<polygon points="137.3,183.9 137.9,194.8 140.5,194.8 140.5,183.9" fill="#fff"/>
<polyline points="137.3,183.9 137.9,194.8 140.5,194.8" fill="none" stroke="#000" stroke-width="0.9"/>
<polygon points="54.6,204.87 658.2,204.87 658.2,203.72 664.5,206.12 658.2,208.52 658.2,207.37 54.6,207.37" fill="#c4c4c4"/>
<text x="666.9" y="189.2" class="pc">100%</text>
<text x="666.9" y="209.12" class="pc">50%</text>
<rect x="55.3" y="211.67" width="50.8" height="24.37" fill="#8c8cff"/>
<rect x="106.1" y="211.67" width="28" height="24.37" fill="#ff8888"/>
<rect x="134.1" y="211.67" width="1.8" height="24.37" fill="#78f5f5"/>
<rect x="135.9" y="211.67" width="2.7" height="24.37" fill="#ff8888"/>
<rect x="140.5" y="211.67" width="2.9" height="24.37" fill="#8c8cff"/>
<rect x="143.4" y="211.67" width="23.6" height="24.37" fill="#ff8888"/>
<rect x="167" y="211.67" width="2.8" height="24.37" fill="#8c8cff"/>
<rect x="169.8" y="211.67" width="12" height="24.37" fill="#ff8888"/>
<rect x="181.8" y="211.67" width="2.7" height="24.37" fill="#78f5f5"/>
<rect x="184.5" y="211.67" width="2.1" height="24.37" fill="#ff8888"/>
<rect x="186.6" y="211.67" width="2.9" height="24.37" fill="#78f5f5"/>
<rect x="189.5" y="211.67" width="16.6" height="24.37" fill="#ff8888"/>
<rect x="206.1" y="211.67" width="1.7" height="24.37" fill="#78f5f5"/>
<rect x="207.8" y="211.67" width="34.3" height="24.37" fill="#ff8888"/>
<rect x="242.1" y="211.67" width="60.6" height="24.37" fill="#8c8cff"/>
<rect x="302.7" y="211.67" width="5.2" height="24.37" fill="#ff8888"/>
<rect x="307.9" y="211.67" width="3" height="24.37" fill="#78f5f5"/>
<rect x="310.9" y="211.67" width="7" height="24.37" fill="#ff8888"/>
<rect x="317.9" y="211.67" width="5.4" height="24.37" fill="#8c8cff"/>
<rect x="323.3" y="211.67" width="5.1" height="24.37" fill="#ff8888"/>
<rect x="328.4" y="211.67" width="2.5" height="24.37" fill="#78f5f5"/>
<rect x="330.9" y="211.67" width="4.1" height="24.37" fill="#ff8888"/>
<rect x="335" y="211.67" width="3.1" height="24.37" fill="#78f5f5"/>
<rect x="338.1" y="211.67" width="2.1" height="24.37" fill="#ff8888"/>
<rect x="340.2" y="211.67" width="8.6" height="24.37" fill="#8c8cff"/>
<rect x="348.8" y="211.67" width="2.5" height="24.37" fill="#ff8888"/>
<rect x="351.3" y="211.67" width="109" height="24.37" fill="#8c8cff"/>
<rect x="460.3" y="211.67" width="18.7" height="24.37" fill="#ff8888"/>
<rect x="479" y="211.67" width="4.7" height="24.37" fill="#8c8cff"/>
<rect x="483.7" y="211.67" width="15.8" height="24.37" fill="#ff8888"/>
<rect x="499.5" y="211.67" width="6.6" height="24.37" fill="#8c8cff"/>
<rect x="506.1" y="211.67" width="17" height="24.37" fill="#ff8888"/>
<rect x="523.1" y="211.67" width="3.9" height="24.37" fill="#8c8cff"/>
<rect x="527" y="211.67" width="19.4" height="24.37" fill="#ff8888"/>
<rect x="546.4" y="211.67" width="2.9" height="24.37" fill="#78f5f5"/>
<rect x="549.3" y="211.67" width="6" height="24.37" fill="#ff8888"/>
<rect x="555.3" y="211.67" width="15.6" height="24.37" fill="#8c8cff"/>
<rect x="570.9" y="211.67" width="8.9" height="24.37" fill="#ff8888"/>
<rect x="579.8" y="211.67" width="2.8" height="24.37" fill="#78f5f5"/>
<rect x="582.6" y="211.67" width="15.9" height="24.37" fill="#ff8888"/>
<rect x="598.5" y="211.67" width="14.3" height="24.37" fill="#78f5f5"/>
<rect x="612.8" y="211.67" width="7.4" height="24.37" fill="#ff8888"/>
<rect x="620.2" y="211.67" width="2.6" height="24.37" fill="#78f5f5"/>
<rect x="622.8" y="211.67" width="11.8" height="24.37" fill="#ff8888"/>
<rect x="634.6" y="211.67" width="12.6" height="24.37" fill="#8c8cff"/>
<rect x="647.2" y="211.67" width="1.9" height="24.37" fill="#ff8888"/>
<rect x="649.1" y="211.67" width="14.9" height="24.37" fill="#8c8cff"/>
<rect x="138.6" y="211.67" width="1.9" height="24.37" fill="#fff"/>
<polygon points="160.6,211.27 161.35,220.17 161.9,228.67 162.45,220.17 163.2,211.27" fill="#fff" stroke="#000" stroke-width="0.9" stroke-linejoin="round"/>
<polygon points="223.1,211.27 224.26,222.58 225.1,233.49 225.94,222.58 227.1,211.27" fill="#fff" stroke="#000" stroke-width="0.9" stroke-linejoin="round"/>
<polygon points="232.8,211.27 234.19,222.58 235.2,233.49 236.21,222.58 237.6,211.27" fill="#fff" stroke="#000" stroke-width="0.9" stroke-linejoin="round"/>
<polygon points="331.9,211.27 332.94,220.67 333.7,229.67 334.46,220.67 335.5,211.27" fill="#fff" stroke="#000" stroke-width="0.9" stroke-linejoin="round"/>
<polygon points="467.1,211.27 468.55,222.58 469.6,233.49 470.65,222.58 472.1,211.27" fill="#fff" stroke="#000" stroke-width="0.9" stroke-linejoin="round"/>
<polygon points="473.9,211.27 475.23,221.67 476.2,231.67 477.17,221.67 478.5,211.27" fill="#fff" stroke="#000" stroke-width="0.9" stroke-linejoin="round"/>
<polygon points="539.9,211.27 541.06,214.67 541.9,217.67 542.74,214.67 543.9,211.27" fill="#fff" stroke="#000" stroke-width="0.9" stroke-linejoin="round"/>
<polygon points="572.8,211.27 574.13,222.58 575.1,233.49 576.07,222.58 577.4,211.27" fill="#fff" stroke="#000" stroke-width="0.9" stroke-linejoin="round"/>
<polygon points="622.7,211.27 623.45,218.17 624,224.67 624.55,218.17 625.3,211.27" fill="#fff" stroke="#000" stroke-width="0.9" stroke-linejoin="round"/>
<polygon points="137.3,211.27 137.9,222.17 140.5,222.17 140.5,211.27" fill="#fff"/>
<polyline points="137.3,211.27 137.9,222.17 140.5,222.17" fill="none" stroke="#000" stroke-width="0.9"/>
<polygon points="54.6,232.24 658.2,232.24 658.2,231.09 664.5,233.49 658.2,235.89 658.2,234.74 54.6,234.74" fill="#c4c4c4"/>
<text x="666.9" y="216.57" class="pc">100%</text>
<text x="666.9" y="236.49" class="pc">50%</text>
<rect x="55.3" y="239.04" width="50.8" height="24.37" fill="#8c8cff"/>
<rect x="106.1" y="239.04" width="28" height="24.37" fill="#ff8888"/>
<rect x="134.1" y="239.04" width="1.8" height="24.37" fill="#78f5f5"/>
<rect x="135.9" y="239.04" width="2.7" height="24.37" fill="#ff8888"/>
<rect x="140.5" y="239.04" width="2.9" height="24.37" fill="#8c8cff"/>
<rect x="143.4" y="239.04" width="23.6" height="24.37" fill="#ff8888"/>
<rect x="167" y="239.04" width="2.8" height="24.37" fill="#8c8cff"/>
<rect x="169.8" y="239.04" width="12" height="24.37" fill="#ff8888"/>
<rect x="181.8" y="239.04" width="2.7" height="24.37" fill="#78f5f5"/>
<rect x="184.5" y="239.04" width="2.1" height="24.37" fill="#ff8888"/>
<rect x="186.6" y="239.04" width="2.9" height="24.37" fill="#78f5f5"/>
<rect x="189.5" y="239.04" width="16.6" height="24.37" fill="#ff8888"/>
<rect x="206.1" y="239.04" width="1.7" height="24.37" fill="#78f5f5"/>
<rect x="207.8" y="239.04" width="34.3" height="24.37" fill="#ff8888"/>
<rect x="242.1" y="239.04" width="60.6" height="24.37" fill="#8c8cff"/>
<rect x="302.7" y="239.04" width="5.2" height="24.37" fill="#ff8888"/>
<rect x="307.9" y="239.04" width="3" height="24.37" fill="#78f5f5"/>
<rect x="310.9" y="239.04" width="7" height="24.37" fill="#ff8888"/>
<rect x="317.9" y="239.04" width="5.4" height="24.37" fill="#8c8cff"/>
<rect x="323.3" y="239.04" width="5.1" height="24.37" fill="#ff8888"/>
<rect x="328.4" y="239.04" width="2.5" height="24.37" fill="#78f5f5"/>
<rect x="330.9" y="239.04" width="4.1" height="24.37" fill="#ff8888"/>
<rect x="335" y="239.04" width="3.1" height="24.37" fill="#78f5f5"/>
<rect x="338.1" y="239.04" width="2.1" height="24.37" fill="#ff8888"/>
<rect x="340.2" y="239.04" width="8.6" height="24.37" fill="#8c8cff"/>
<rect x="348.8" y="239.04" width="2.5" height="24.37" fill="#ff8888"/>
<rect x="351.3" y="239.04" width="109" height="24.37" fill="#8c8cff"/>
<rect x="460.3" y="239.04" width="18.7" height="24.37" fill="#ff8888"/>
<rect x="479" y="239.04" width="4.7" height="24.37" fill="#8c8cff"/>
<rect x="483.7" y="239.04" width="15.8" height="24.37" fill="#ff8888"/>
<rect x="499.5" y="239.04" width="6.6" height="24.37" fill="#8c8cff"/>
<rect x="506.1" y="239.04" width="17" height="24.37" fill="#ff8888"/>
<rect x="523.1" y="239.04" width="3.9" height="24.37" fill="#8c8cff"/>
<rect x="527" y="239.04" width="19.4" height="24.37" fill="#ff8888"/>
<rect x="546.4" y="239.04" width="2.9" height="24.37" fill="#78f5f5"/>
<rect x="549.3" y="239.04" width="6" height="24.37" fill="#ff8888"/>
<rect x="555.3" y="239.04" width="15.6" height="24.37" fill="#8c8cff"/>
<rect x="570.9" y="239.04" width="8.9" height="24.37" fill="#ff8888"/>
<rect x="579.8" y="239.04" width="2.8" height="24.37" fill="#78f5f5"/>
<rect x="582.6" y="239.04" width="15.9" height="24.37" fill="#ff8888"/>
<rect x="598.5" y="239.04" width="14.3" height="24.37" fill="#78f5f5"/>
<rect x="612.8" y="239.04" width="7.4" height="24.37" fill="#ff8888"/>
<rect x="620.2" y="239.04" width="2.6" height="24.37" fill="#78f5f5"/>
<rect x="622.8" y="239.04" width="11.8" height="24.37" fill="#ff8888"/>
<rect x="634.6" y="239.04" width="12.6" height="24.37" fill="#8c8cff"/>
<rect x="647.2" y="239.04" width="1.9" height="24.37" fill="#ff8888"/>
<rect x="649.1" y="239.04" width="14.9" height="24.37" fill="#8c8cff"/>
<rect x="138.6" y="239.04" width="1.9" height="24.37" fill="#fff"/>
<polygon points="160.6,238.64 161.35,246.54 161.9,254.04 162.45,246.54 163.2,238.64" fill="#fff" stroke="#000" stroke-width="0.9" stroke-linejoin="round"/>
<polygon points="223.1,238.64 224.26,249.95 225.1,260.86 225.94,249.95 227.1,238.64" fill="#fff" stroke="#000" stroke-width="0.9" stroke-linejoin="round"/>
<polygon points="232.8,238.64 234.19,249.95 235.2,260.86 236.21,249.95 237.6,238.64" fill="#fff" stroke="#000" stroke-width="0.9" stroke-linejoin="round"/>
<polygon points="331.9,238.64 332.94,248.04 333.7,257.04 334.46,248.04 335.5,238.64" fill="#fff" stroke="#000" stroke-width="0.9" stroke-linejoin="round"/>
<polygon points="467.1,238.64 468.55,249.95 469.6,260.86 470.65,249.95 472.1,238.64" fill="#fff" stroke="#000" stroke-width="0.9" stroke-linejoin="round"/>
<polygon points="473.9,238.64 475.23,249.04 476.2,259.04 477.17,249.04 478.5,238.64" fill="#fff" stroke="#000" stroke-width="0.9" stroke-linejoin="round"/>
<polygon points="539.9,238.64 541.06,242.04 541.9,245.04 542.74,242.04 543.9,238.64" fill="#fff" stroke="#000" stroke-width="0.9" stroke-linejoin="round"/>
<polygon points="572.8,238.64 574.13,249.95 575.1,260.86 576.07,249.95 577.4,238.64" fill="#fff" stroke="#000" stroke-width="0.9" stroke-linejoin="round"/>
<polygon points="622.7,238.64 623.45,245.54 624,252.04 624.55,245.54 625.3,238.64" fill="#fff" stroke="#000" stroke-width="0.9" stroke-linejoin="round"/>
<polygon points="137.3,238.64 137.9,249.54 140.5,249.54 140.5,238.64" fill="#fff"/>
<polyline points="137.3,238.64 137.9,249.54 140.5,249.54" fill="none" stroke="#000" stroke-width="0.9"/>
<polygon points="54.6,259.61 658.2,259.61 658.2,258.46 664.5,260.86 658.2,263.26 658.2,262.11 54.6,262.11" fill="#c4c4c4"/>
<text x="666.9" y="243.94" class="pc">100%</text>
<text x="666.9" y="263.86" class="pc">50%</text>
<rect x="53.6" y="181.35" width="611.8" height="2.5" fill="#000"/>
<rect x="53.6" y="183.85" width="611.8" height="0.55" fill="#000" opacity="0.75"/>
<rect x="53.6" y="208.72" width="611.8" height="2.5" fill="#000"/>
<rect x="53.6" y="211.22" width="611.8" height="0.55" fill="#000" opacity="0.75"/>
<rect x="53.6" y="236.09" width="611.8" height="2.5" fill="#000"/>
<rect x="53.6" y="238.59" width="611.8" height="0.55" fill="#000" opacity="0.75"/>
<rect x="53.6" y="263.51" width="611.8" height="2" fill="#000"/>
<rect x="53.6" y="181.4" width="1.8" height="84.01" fill="#000"/>
<rect x="663.6" y="181.4" width="1.8" height="84.01" fill="#000"/>
<ellipse cx="113.6" cy="184.1" rx="1.1" ry="0.75" fill="#fff" stroke="#000" stroke-width="0.75"/>
<ellipse cx="150.6" cy="184.1" rx="1.1" ry="0.75" fill="#fff" stroke="#000" stroke-width="0.75"/>
<ellipse cx="156" cy="184.1" rx="1.1" ry="0.75" fill="#fff" stroke="#000" stroke-width="0.75"/>
<ellipse cx="171" cy="184.1" rx="1.1" ry="0.75" fill="#fff" stroke="#000" stroke-width="0.75"/>
<ellipse cx="229.2" cy="184.1" rx="1.1" ry="0.75" fill="#fff" stroke="#000" stroke-width="0.75"/>
<ellipse cx="275.2" cy="184.1" rx="1.1" ry="0.75" fill="#fff" stroke="#000" stroke-width="0.75"/>
<ellipse cx="323.4" cy="184.1" rx="1.1" ry="0.75" fill="#fff" stroke="#000" stroke-width="0.75"/>
<ellipse cx="498.6" cy="184.1" rx="1.1" ry="0.75" fill="#fff" stroke="#000" stroke-width="0.75"/>
<ellipse cx="523" cy="184.1" rx="1.1" ry="0.75" fill="#fff" stroke="#000" stroke-width="0.75"/>
<ellipse cx="527.5" cy="184.1" rx="1.1" ry="0.75" fill="#fff" stroke="#000" stroke-width="0.75"/>
<ellipse cx="614.8" cy="184.1" rx="1.1" ry="0.75" fill="#fff" stroke="#000" stroke-width="0.75"/>
<ellipse cx="626.9" cy="184.1" rx="1.1" ry="0.75" fill="#fff" stroke="#000" stroke-width="0.75"/>
<ellipse cx="113.6" cy="211.47" rx="1.1" ry="0.75" fill="#fff" stroke="#000" stroke-width="0.75"/>
<ellipse cx="150.6" cy="211.47" rx="1.1" ry="0.75" fill="#fff" stroke="#000" stroke-width="0.75"/>
<ellipse cx="323.4" cy="211.47" rx="1.1" ry="0.75" fill="#fff" stroke="#000" stroke-width="0.75"/>
<ellipse cx="498.6" cy="211.47" rx="1.1" ry="0.75" fill="#fff" stroke="#000" stroke-width="0.75"/>
<ellipse cx="527.5" cy="211.47" rx="1.1" ry="0.75" fill="#fff" stroke="#000" stroke-width="0.75"/>
<ellipse cx="614.8" cy="211.47" rx="1.1" ry="0.75" fill="#fff" stroke="#000" stroke-width="0.75"/>
<ellipse cx="113.6" cy="238.84" rx="1.1" ry="0.75" fill="#fff" stroke="#000" stroke-width="0.75"/>
<ellipse cx="171" cy="238.84" rx="1.1" ry="0.75" fill="#fff" stroke="#000" stroke-width="0.75"/>
<ellipse cx="323.4" cy="238.84" rx="1.1" ry="0.75" fill="#fff" stroke="#000" stroke-width="0.75"/>
<ellipse cx="498.6" cy="238.84" rx="1.1" ry="0.75" fill="#fff" stroke="#000" stroke-width="0.75"/>
<ellipse cx="614.8" cy="238.84" rx="1.1" ry="0.75" fill="#fff" stroke="#000" stroke-width="0.75"/>
<line x1="68.44" y1="265.51" x2="68.44" y2="267.01" stroke="#000" stroke-width="0.9"/>
<line x1="104.88" y1="265.51" x2="104.88" y2="268.21" stroke="#000" stroke-width="0.9"/>
<text x="105.43" y="276.41" class="ax" text-anchor="middle">27k</text>
<line x1="141.31" y1="265.51" x2="141.31" y2="267.01" stroke="#000" stroke-width="0.9"/>
<line x1="177.75" y1="265.51" x2="177.75" y2="268.21" stroke="#000" stroke-width="0.9"/>
<text x="178.3" y="276.41" class="ax" text-anchor="middle">30k</text>
<line x1="214.19" y1="265.51" x2="214.19" y2="267.01" stroke="#000" stroke-width="0.9"/>
<line x1="250.62" y1="265.51" x2="250.62" y2="268.21" stroke="#000" stroke-width="0.9"/>
<text x="251.17" y="276.41" class="ax" text-anchor="middle">33k</text>
<line x1="287.06" y1="265.51" x2="287.06" y2="267.01" stroke="#000" stroke-width="0.9"/>
<line x1="323.49" y1="265.51" x2="323.49" y2="268.21" stroke="#000" stroke-width="0.9"/>
<text x="324.04" y="276.41" class="ax" text-anchor="middle">36k</text>
<line x1="359.93" y1="265.51" x2="359.93" y2="267.01" stroke="#000" stroke-width="0.9"/>
<line x1="396.36" y1="265.51" x2="396.36" y2="268.21" stroke="#000" stroke-width="0.9"/>
<text x="396.91" y="276.41" class="ax" text-anchor="middle">39k</text>
<line x1="432.8" y1="265.51" x2="432.8" y2="267.01" stroke="#000" stroke-width="0.9"/>
<line x1="469.23" y1="265.51" x2="469.23" y2="268.21" stroke="#000" stroke-width="0.9"/>
<text x="469.78" y="276.41" class="ax" text-anchor="middle">42k</text>
<line x1="505.67" y1="265.51" x2="505.67" y2="267.01" stroke="#000" stroke-width="0.9"/>
<line x1="542.1" y1="265.51" x2="542.1" y2="268.21" stroke="#000" stroke-width="0.9"/>
<text x="542.65" y="276.41" class="ax" text-anchor="middle">45k</text>
<line x1="578.53" y1="265.51" x2="578.53" y2="267.01" stroke="#000" stroke-width="0.9"/>
<line x1="614.97" y1="265.51" x2="614.97" y2="268.21" stroke="#000" stroke-width="0.9"/>
<text x="615.52" y="276.41" class="ax" text-anchor="middle">48k</text>
<line x1="651.4" y1="265.51" x2="651.4" y2="267.01" stroke="#000" stroke-width="0.9"/>
<polygon points="303.9,151.7 297.6,148.85 297.6,150.3 268,150.3 268,153.1 297.6,153.1 297.6,154.55" fill="#7f7f7f"/>
<polygon points="404.2,151.7 410.5,148.85 410.5,150.3 460.2,150.3 460.2,153.1 410.5,153.1 410.5,154.55" fill="#7f7f7f"/>
<polygon points="55.1,165.4 61.4,162.55 61.4,164 106.4,164 106.4,166.8 61.4,166.8 61.4,168.25" fill="#7f7f7f"/>
<polygon points="136.5,165.4 133,162.65 133,168.15" fill="#7f7f7f"/>
<polygon points="144,165.4 140.5,162.65 140.5,168.15" fill="#7f7f7f"/>
<polygon points="167.5,165.4 170.5,162.65 170.5,168.15" fill="#7f7f7f"/>
<polygon points="181.5,165.4 185,162.65 185,168.15" fill="#7f7f7f"/>
<polygon points="186,165.4 189.5,162.65 189.5,168.15" fill="#7f7f7f"/>
<polygon points="207.5,164.5 205.5,161.75 205.5,167.25" fill="#7f7f7f"/>
<polygon points="270.2,165.4 263.9,162.55 263.9,164 242.2,164 242.2,166.8 263.9,166.8 263.9,168.25" fill="#7f7f7f"/>
<polygon points="308,165.4 311.5,162.65 311.5,168.15" fill="#7f7f7f"/>
<polygon points="331.2,158.6 328.3,155.85 328.3,161.35" fill="#7f7f7f"/>
<polygon points="323.9,165.4 318.3,162.65 318.3,168.15" fill="#7f7f7f"/>
<polygon points="335,165.4 338.5,162.65 338.5,168.15" fill="#7f7f7f"/>
<polygon points="340.7,165.4 347,162.55 347,164 349,164 349,166.8 347,166.8 347,168.25" fill="#7f7f7f"/>
<polygon points="351.2,165.4 357.5,162.55 357.5,164 405.9,164 405.9,166.8 357.5,166.8 357.5,168.25" fill="#7f7f7f"/>
<polygon points="478.5,165.4 484.8,162.55 484.8,164 527.2,164 527.2,166.8 484.8,166.8 484.8,168.25" fill="#7f7f7f"/>
<polygon points="549.5,165.4 546,162.65 546,168.15" fill="#7f7f7f"/>
<polygon points="554.7,165.4 561,162.55 561,164 571,164 571,166.8 561,166.8 561,168.25" fill="#7f7f7f"/>
<polygon points="579.8,165.4 582.5,162.65 582.5,168.15" fill="#7f7f7f"/>
<polygon points="613.2,165.4 606.9,162.55 606.9,164 598.3,164 598.3,166.8 606.9,166.8 606.9,168.25" fill="#7f7f7f"/>
<polygon points="622.8,165.4 620.2,162.65 620.2,168.15" fill="#7f7f7f"/>
<polygon points="634.2,165.4 640.5,162.55 640.5,164 646.5,164 646.5,166.8 640.5,166.8 640.5,168.25" fill="#7f7f7f"/>
<polygon points="648.7,165.4 655,162.55 655,164 664,164 664,166.8 655,166.8 655,168.25" fill="#7f7f7f"/>
<text transform="translate(275.3,147) scale(0.885,1)" font-size="8.61" class="gl">psbC</text>
<text transform="translate(422.9,147) scale(0.885,1)" font-size="8.61" class="gl">psaA</text>
<text transform="translate(71.9,160.1) scale(0.885,1)" font-size="8.61" class="gl">rpoB</text>
<text transform="translate(114.6,160.2) scale(0.885,1)" font-size="8.61" class="gl">trnC-GCA</text>
<text transform="translate(246,160.2) scale(0.885,1)" font-size="8.61" class="gl">psbD</text>
<text transform="translate(369.1,160.2) scale(0.885,1)" font-size="8.61" class="gl">psaB</text>
<text transform="translate(494.6,160.2) scale(0.885,1)" font-size="8.61" class="gl">ycf3</text>
<text transform="translate(602.7,160.2) scale(0.885,1)" font-size="8.61" class="gl">trnF-GAA</text>
<text transform="translate(647,160.2) scale(0.885,1)" font-size="8.61" class="gl">ndhK</text>
<text transform="translate(530.7,159.6) scale(0.885,1)" font-size="7.41" class="gl">trnS-GGA</text>
<text transform="translate(564.7,159.6) scale(0.885,1)" font-size="7.41" class="gl">trnT-UGU</text>
<text transform="translate(133.5,174.2) scale(0.885,1)" font-size="8.61" class="gl">petN</text>
<text transform="translate(554.7,174) scale(0.885,1)" font-size="8.61" class="gl">rps4</text>
<text transform="translate(587.4,174) scale(0.885,1)" font-size="8.18" class="gl">trnL-UAA</text>
<text transform="translate(632.4,174) scale(0.885,1)" font-size="8.61" class="gl">ndhJ</text>
<text x="157.7" y="159.6" font-size="5.9" fill="#111" stroke="#111" stroke-width="0.12">psbM</text>
<text x="173.5" y="159.6" font-size="5.9" fill="#111" stroke="#111" stroke-width="0.12">trnY-GUA</text>
<text x="168.6" y="172.9" font-size="5.9" fill="#111" stroke="#111" stroke-width="0.12">trnD-GUC</text>
<text x="196.1" y="172.9" font-size="5.9" fill="#111" stroke="#111" stroke-width="0.12">trnT-GGU</text>
<text x="310.4" y="172.9" font-size="5.9" fill="#111" stroke="#111" stroke-width="0.12">psbZ</text>
<text x="325" y="172.9" font-size="5.9" fill="#111" stroke="#111" stroke-width="0.12">trnfM-CAU</text>
<text x="294.6" y="159.6" font-size="4.8" fill="#111" stroke="#111" stroke-width="0.14">trnS-UGA</text>
<text x="316.2" y="152.6" font-size="4.8" fill="#111" stroke="#111" stroke-width="0.14">trnG-GCC</text>
<text x="338.4" y="159.6" font-size="4.8" fill="#111" stroke="#111" stroke-width="0.14">rps14</text>
<rect x="55.3" y="311.9" width="13.9" height="7.7" fill="#8c8cff"/>
<rect x="92.1" y="311.9" width="15.8" height="7.7" fill="#78f5f5"/>
<rect x="111.9" y="311.9" width="1.8" height="7.7" fill="#78f5f5"/>
<rect x="118.9" y="311.9" width="47.2" height="7.7" fill="#8c8cff"/>
<rect x="183.6" y="311.9" width="36.3" height="7.7" fill="#8c8cff"/>
<rect x="235.5" y="311.9" width="36.9" height="7.7" fill="#8c8cff"/>
<rect x="283.4" y="311.9" width="2.6" height="7.7" fill="#8c8cff"/>
<rect x="295.8" y="311.9" width="14.7" height="7.7" fill="#8c8cff"/>
<rect x="322.7" y="311.9" width="18.2" height="7.7" fill="#8c8cff"/>
<rect x="344.9" y="311.9" width="24.3" height="7.7" fill="#8c8cff"/>
<rect x="394" y="311.9" width="3.8" height="7.7" fill="#8c8cff"/>
<rect x="399.9" y="311.9" width="13.3" height="7.7" fill="#8c8cff"/>
<rect x="431.9" y="311.9" width="3.8" height="7.7" fill="#8c8cff"/>
<rect x="438.9" y="311.9" width="4" height="7.7" fill="#8c8cff"/>
<rect x="445" y="311.9" width="3" height="7.7" fill="#78f5f5"/>
<rect x="450.5" y="311.9" width="3.3" height="7.7" fill="#78f5f5"/>
<rect x="460.6" y="311.9" width="3.6" height="7.7" fill="#8c8cff"/>
<rect x="475.3" y="311.9" width="5.5" height="7.7" fill="#8c8cff"/>
<rect x="484.1" y="311.9" width="8.5" height="7.7" fill="#8c8cff"/>
<rect x="497.8" y="311.9" width="9.2" height="7.7" fill="#8c8cff"/>
<rect x="531.9" y="311.9" width="6.7" height="7.7" fill="#8c8cff"/>
<rect x="552.1" y="311.9" width="9.2" height="7.7" fill="#8c8cff"/>
<rect x="577.8" y="311.9" width="2.9" height="7.7" fill="#8c8cff"/>
<rect x="590.4" y="311.9" width="38.1" height="7.7" fill="#8c8cff"/>
<rect x="632.5" y="311.9" width="2.7" height="7.7" fill="#8c8cff"/>
<rect x="636.2" y="311.9" width="4" height="7.7" fill="#8c8cff"/>
<rect x="642.1" y="311.9" width="5.8" height="7.7" fill="#8c8cff"/>
<rect x="650.1" y="311.9" width="0.9" height="7.7" fill="#8c8cff"/>
<rect x="55.3" y="322.9" width="13.9" height="24.37" fill="#8c8cff"/>
<rect x="69.2" y="322.9" width="22.9" height="24.37" fill="#ff8888"/>
<rect x="92.1" y="322.9" width="15.8" height="24.37" fill="#78f5f5"/>
<rect x="107.9" y="322.9" width="4" height="24.37" fill="#ff8888"/>
<rect x="111.9" y="322.9" width="1.8" height="24.37" fill="#78f5f5"/>
<rect x="113.7" y="322.9" width="5.2" height="24.37" fill="#ff8888"/>
<rect x="118.9" y="322.9" width="47.2" height="24.37" fill="#8c8cff"/>
<rect x="166.1" y="322.9" width="17.5" height="24.37" fill="#ff8888"/>
<rect x="183.6" y="322.9" width="36.3" height="24.37" fill="#8c8cff"/>
<rect x="219.9" y="322.9" width="15.6" height="24.37" fill="#ff8888"/>
<rect x="235.5" y="322.9" width="36.9" height="24.37" fill="#8c8cff"/>
<rect x="272.4" y="322.9" width="11" height="24.37" fill="#ff8888"/>
<rect x="283.4" y="322.9" width="2.6" height="24.37" fill="#8c8cff"/>
<rect x="286" y="322.9" width="9.8" height="24.37" fill="#ff8888"/>
<rect x="295.8" y="322.9" width="14.7" height="24.37" fill="#8c8cff"/>
<rect x="310.5" y="322.9" width="12.2" height="24.37" fill="#ff8888"/>
<rect x="322.7" y="322.9" width="18.2" height="24.37" fill="#8c8cff"/>
<rect x="340.9" y="322.9" width="4" height="24.37" fill="#ff8888"/>
<rect x="344.9" y="322.9" width="24.3" height="24.37" fill="#8c8cff"/>
<rect x="369.2" y="322.9" width="24.8" height="24.37" fill="#ff8888"/>
<rect x="394" y="322.9" width="3.8" height="24.37" fill="#8c8cff"/>
<rect x="397.8" y="322.9" width="2.1" height="24.37" fill="#ff8888"/>
<rect x="399.9" y="322.9" width="13.3" height="24.37" fill="#8c8cff"/>
<rect x="413.2" y="322.9" width="18.7" height="24.37" fill="#ff8888"/>
<rect x="431.9" y="322.9" width="3.8" height="24.37" fill="#8c8cff"/>
<rect x="435.7" y="322.9" width="3.2" height="24.37" fill="#ff8888"/>
<rect x="438.9" y="322.9" width="4" height="24.37" fill="#8c8cff"/>
<rect x="442.9" y="322.9" width="2.1" height="24.37" fill="#ff8888"/>
<rect x="445" y="322.9" width="3" height="24.37" fill="#78f5f5"/>
<rect x="448" y="322.9" width="2.5" height="24.37" fill="#ff8888"/>
<rect x="450.5" y="322.9" width="3.3" height="24.37" fill="#78f5f5"/>
<rect x="453.8" y="322.9" width="6.8" height="24.37" fill="#ff8888"/>
<rect x="460.6" y="322.9" width="3.6" height="24.37" fill="#8c8cff"/>
<rect x="464.2" y="322.9" width="11.1" height="24.37" fill="#ff8888"/>
<rect x="475.3" y="322.9" width="5.5" height="24.37" fill="#8c8cff"/>
<rect x="480.8" y="322.9" width="3.3" height="24.37" fill="#ff8888"/>
<rect x="484.1" y="322.9" width="8.5" height="24.37" fill="#8c8cff"/>
<rect x="492.6" y="322.9" width="5.2" height="24.37" fill="#ff8888"/>
<rect x="497.8" y="322.9" width="9.2" height="24.37" fill="#8c8cff"/>
<rect x="507" y="322.9" width="24.9" height="24.37" fill="#ff8888"/>
<rect x="531.9" y="322.9" width="6.7" height="24.37" fill="#8c8cff"/>
<rect x="538.6" y="322.9" width="13.5" height="24.37" fill="#ff8888"/>
<rect x="552.1" y="322.9" width="9.2" height="24.37" fill="#8c8cff"/>
<rect x="561.3" y="322.9" width="16.5" height="24.37" fill="#ff8888"/>
<rect x="577.8" y="322.9" width="2.9" height="24.37" fill="#8c8cff"/>
<rect x="580.7" y="322.9" width="9.7" height="24.37" fill="#ff8888"/>
<rect x="590.4" y="322.9" width="38.1" height="24.37" fill="#8c8cff"/>
<rect x="628.5" y="322.9" width="4" height="24.37" fill="#ff8888"/>
<rect x="632.5" y="322.9" width="2.7" height="24.37" fill="#8c8cff"/>
<rect x="636.2" y="322.9" width="4" height="24.37" fill="#8c8cff"/>
<rect x="640.2" y="322.9" width="1.9" height="24.37" fill="#ff8888"/>
<rect x="642.1" y="322.9" width="5.8" height="24.37" fill="#8c8cff"/>
<rect x="647.9" y="322.9" width="2.2" height="24.37" fill="#ff8888"/>
<rect x="650.1" y="322.9" width="0.9" height="24.37" fill="#8c8cff"/>
<rect x="651" y="322.9" width="13" height="24.37" fill="#ff8888"/>
<rect x="635.2" y="322.9" width="1.1" height="24.37" fill="#fff"/>
<line x1="634.9" y1="333.81" x2="636.7" y2="333.81" stroke="#000" stroke-width="0.9"/>
<polygon points="74.9,322.5 76.06,327.9 76.9,332.9 77.74,327.9 78.9,322.5" fill="#fff" stroke="#000" stroke-width="0.9" stroke-linejoin="round"/>
<polygon points="174,322.5 174.87,324.4 175.5,325.9 176.13,324.4 177,322.5" fill="#fff" stroke="#000" stroke-width="0.9" stroke-linejoin="round"/>
<polygon points="275.8,322.5 276.96,329.65 277.8,336.4 278.64,329.65 279.8,322.5" fill="#fff" stroke="#000" stroke-width="0.9" stroke-linejoin="round"/>
<polygon points="314.8,322.5 315.96,329.4 316.8,335.9 317.64,329.4 318.8,322.5" fill="#fff" stroke="#000" stroke-width="0.9" stroke-linejoin="round"/>
<polygon points="381.4,322.5 382.62,333.81 383.5,344.72 384.38,333.81 385.6,322.5" fill="#fff" stroke="#000" stroke-width="0.9" stroke-linejoin="round"/>
<polygon points="421.2,322.5 422.07,328.9 422.7,334.9 423.33,328.9 424.2,322.5" fill="#fff" stroke="#000" stroke-width="0.9" stroke-linejoin="round"/>
<polygon points="455.3,322.5 456.63,333.81 457.6,344.72 458.57,333.81 459.9,322.5" fill="#fff" stroke="#000" stroke-width="0.9" stroke-linejoin="round"/>
<polygon points="54.6,343.47 658.2,343.47 658.2,342.32 664.5,344.72 658.2,347.12 658.2,345.97 54.6,345.97" fill="#c4c4c4"/>
<text x="666.9" y="327.8" class="pc">100%</text>
<text x="666.9" y="347.72" class="pc">50%</text>
<rect x="55.3" y="350.27" width="13.9" height="24.37" fill="#8c8cff"/>
<rect x="69.2" y="350.27" width="22.9" height="24.37" fill="#ff8888"/>
<rect x="92.1" y="350.27" width="15.8" height="24.37" fill="#78f5f5"/>
<rect x="107.9" y="350.27" width="4" height="24.37" fill="#ff8888"/>
<rect x="111.9" y="350.27" width="1.8" height="24.37" fill="#78f5f5"/>
<rect x="113.7" y="350.27" width="5.2" height="24.37" fill="#ff8888"/>
<rect x="118.9" y="350.27" width="47.2" height="24.37" fill="#8c8cff"/>
<rect x="166.1" y="350.27" width="17.5" height="24.37" fill="#ff8888"/>
<rect x="183.6" y="350.27" width="36.3" height="24.37" fill="#8c8cff"/>
<rect x="219.9" y="350.27" width="15.6" height="24.37" fill="#ff8888"/>
<rect x="235.5" y="350.27" width="36.9" height="24.37" fill="#8c8cff"/>
<rect x="272.4" y="350.27" width="11" height="24.37" fill="#ff8888"/>
<rect x="283.4" y="350.27" width="2.6" height="24.37" fill="#8c8cff"/>
<rect x="286" y="350.27" width="9.8" height="24.37" fill="#ff8888"/>
<rect x="295.8" y="350.27" width="14.7" height="24.37" fill="#8c8cff"/>
<rect x="310.5" y="350.27" width="12.2" height="24.37" fill="#ff8888"/>
<rect x="322.7" y="350.27" width="18.2" height="24.37" fill="#8c8cff"/>
<rect x="340.9" y="350.27" width="4" height="24.37" fill="#ff8888"/>
<rect x="344.9" y="350.27" width="24.3" height="24.37" fill="#8c8cff"/>
<rect x="369.2" y="350.27" width="24.8" height="24.37" fill="#ff8888"/>
<rect x="394" y="350.27" width="3.8" height="24.37" fill="#8c8cff"/>
<rect x="397.8" y="350.27" width="2.1" height="24.37" fill="#ff8888"/>
<rect x="399.9" y="350.27" width="13.3" height="24.37" fill="#8c8cff"/>
<rect x="413.2" y="350.27" width="18.7" height="24.37" fill="#ff8888"/>
<rect x="431.9" y="350.27" width="3.8" height="24.37" fill="#8c8cff"/>
<rect x="435.7" y="350.27" width="3.2" height="24.37" fill="#ff8888"/>
<rect x="438.9" y="350.27" width="4" height="24.37" fill="#8c8cff"/>
<rect x="442.9" y="350.27" width="2.1" height="24.37" fill="#ff8888"/>
<rect x="445" y="350.27" width="3" height="24.37" fill="#78f5f5"/>
<rect x="448" y="350.27" width="2.5" height="24.37" fill="#ff8888"/>
<rect x="450.5" y="350.27" width="3.3" height="24.37" fill="#78f5f5"/>
<rect x="453.8" y="350.27" width="6.8" height="24.37" fill="#ff8888"/>
<rect x="460.6" y="350.27" width="3.6" height="24.37" fill="#8c8cff"/>
<rect x="464.2" y="350.27" width="11.1" height="24.37" fill="#ff8888"/>
<rect x="475.3" y="350.27" width="5.5" height="24.37" fill="#8c8cff"/>
<rect x="480.8" y="350.27" width="3.3" height="24.37" fill="#ff8888"/>
<rect x="484.1" y="350.27" width="8.5" height="24.37" fill="#8c8cff"/>
<rect x="492.6" y="350.27" width="5.2" height="24.37" fill="#ff8888"/>
<rect x="497.8" y="350.27" width="9.2" height="24.37" fill="#8c8cff"/>
<rect x="507" y="350.27" width="24.9" height="24.37" fill="#ff8888"/>
<rect x="531.9" y="350.27" width="6.7" height="24.37" fill="#8c8cff"/>
<rect x="538.6" y="350.27" width="13.5" height="24.37" fill="#ff8888"/>
<rect x="552.1" y="350.27" width="9.2" height="24.37" fill="#8c8cff"/>
<rect x="561.3" y="350.27" width="16.5" height="24.37" fill="#ff8888"/>
<rect x="577.8" y="350.27" width="2.9" height="24.37" fill="#8c8cff"/>
<rect x="580.7" y="350.27" width="9.7" height="24.37" fill="#ff8888"/>
<rect x="590.4" y="350.27" width="38.1" height="24.37" fill="#8c8cff"/>
<rect x="628.5" y="350.27" width="4" height="24.37" fill="#ff8888"/>
<rect x="632.5" y="350.27" width="2.7" height="24.37" fill="#8c8cff"/>
<rect x="636.2" y="350.27" width="4" height="24.37" fill="#8c8cff"/>
<rect x="640.2" y="350.27" width="1.9" height="24.37" fill="#ff8888"/>
<rect x="642.1" y="350.27" width="5.8" height="24.37" fill="#8c8cff"/>
<rect x="647.9" y="350.27" width="2.2" height="24.37" fill="#ff8888"/>
<rect x="650.1" y="350.27" width="0.9" height="24.37" fill="#8c8cff"/>
<rect x="651" y="350.27" width="13" height="24.37" fill="#ff8888"/>
<rect x="635.2" y="350.27" width="1.1" height="24.37" fill="#fff"/>
<line x1="634.9" y1="361.18" x2="636.7" y2="361.18" stroke="#000" stroke-width="0.9"/>
<polygon points="74.9,349.87 76.06,355.52 76.9,360.77 77.74,355.52 78.9,349.87" fill="#fff" stroke="#000" stroke-width="0.9" stroke-linejoin="round"/>
<polygon points="275.8,349.87 276.96,356.77 277.8,363.27 278.64,356.77 279.8,349.87" fill="#fff" stroke="#000" stroke-width="0.9" stroke-linejoin="round"/>
<polygon points="314.8,349.87 315.96,356.77 316.8,363.27 317.64,356.77 318.8,349.87" fill="#fff" stroke="#000" stroke-width="0.9" stroke-linejoin="round"/>
<polygon points="381.4,349.87 382.62,361.18 383.5,372.09 384.38,361.18 385.6,349.87" fill="#fff" stroke="#000" stroke-width="0.9" stroke-linejoin="round"/>
<polygon points="421.2,349.87 422.07,356.27 422.7,362.27 423.33,356.27 424.2,349.87" fill="#fff" stroke="#000" stroke-width="0.9" stroke-linejoin="round"/>
<polygon points="455.3,349.87 456.63,361.18 457.6,372.09 458.57,361.18 459.9,349.87" fill="#fff" stroke="#000" stroke-width="0.9" stroke-linejoin="round"/>
<polygon points="54.6,370.84 658.2,370.84 658.2,369.69 664.5,372.09 658.2,374.49 658.2,373.34 54.6,373.34" fill="#c4c4c4"/>
<text x="666.9" y="355.17" class="pc">100%</text>
<text x="666.9" y="375.09" class="pc">50%</text>
<rect x="55.3" y="377.64" width="13.9" height="24.37" fill="#8c8cff"/>
<rect x="69.2" y="377.64" width="22.9" height="24.37" fill="#ff8888"/>
<rect x="92.1" y="377.64" width="15.8" height="24.37" fill="#78f5f5"/>
<rect x="107.9" y="377.64" width="4" height="24.37" fill="#ff8888"/>
<rect x="111.9" y="377.64" width="1.8" height="24.37" fill="#78f5f5"/>
<rect x="113.7" y="377.64" width="5.2" height="24.37" fill="#ff8888"/>
<rect x="118.9" y="377.64" width="47.2" height="24.37" fill="#8c8cff"/>
<rect x="166.1" y="377.64" width="17.5" height="24.37" fill="#ff8888"/>
<rect x="183.6" y="377.64" width="36.3" height="24.37" fill="#8c8cff"/>
<rect x="219.9" y="377.64" width="15.6" height="24.37" fill="#ff8888"/>
<rect x="235.5" y="377.64" width="36.9" height="24.37" fill="#8c8cff"/>
<rect x="272.4" y="377.64" width="11" height="24.37" fill="#ff8888"/>
<rect x="283.4" y="377.64" width="2.6" height="24.37" fill="#8c8cff"/>
<rect x="286" y="377.64" width="9.8" height="24.37" fill="#ff8888"/>
<rect x="295.8" y="377.64" width="14.7" height="24.37" fill="#8c8cff"/>
<rect x="310.5" y="377.64" width="12.2" height="24.37" fill="#ff8888"/>
<rect x="322.7" y="377.64" width="18.2" height="24.37" fill="#8c8cff"/>
<rect x="340.9" y="377.64" width="4" height="24.37" fill="#ff8888"/>
<rect x="344.9" y="377.64" width="24.3" height="24.37" fill="#8c8cff"/>
<rect x="369.2" y="377.64" width="24.8" height="24.37" fill="#ff8888"/>
<rect x="394" y="377.64" width="3.8" height="24.37" fill="#8c8cff"/>
<rect x="397.8" y="377.64" width="2.1" height="24.37" fill="#ff8888"/>
<rect x="399.9" y="377.64" width="13.3" height="24.37" fill="#8c8cff"/>
<rect x="413.2" y="377.64" width="18.7" height="24.37" fill="#ff8888"/>
<rect x="431.9" y="377.64" width="3.8" height="24.37" fill="#8c8cff"/>
<rect x="435.7" y="377.64" width="3.2" height="24.37" fill="#ff8888"/>
<rect x="438.9" y="377.64" width="4" height="24.37" fill="#8c8cff"/>
<rect x="442.9" y="377.64" width="2.1" height="24.37" fill="#ff8888"/>
<rect x="445" y="377.64" width="3" height="24.37" fill="#78f5f5"/>
<rect x="448" y="377.64" width="2.5" height="24.37" fill="#ff8888"/>
<rect x="450.5" y="377.64" width="3.3" height="24.37" fill="#78f5f5"/>
<rect x="453.8" y="377.64" width="6.8" height="24.37" fill="#ff8888"/>
<rect x="460.6" y="377.64" width="3.6" height="24.37" fill="#8c8cff"/>
<rect x="464.2" y="377.64" width="11.1" height="24.37" fill="#ff8888"/>
<rect x="475.3" y="377.64" width="5.5" height="24.37" fill="#8c8cff"/>
<rect x="480.8" y="377.64" width="3.3" height="24.37" fill="#ff8888"/>
<rect x="484.1" y="377.64" width="8.5" height="24.37" fill="#8c8cff"/>
<rect x="492.6" y="377.64" width="5.2" height="24.37" fill="#ff8888"/>
<rect x="497.8" y="377.64" width="9.2" height="24.37" fill="#8c8cff"/>
<rect x="507" y="377.64" width="24.9" height="24.37" fill="#ff8888"/>
<rect x="531.9" y="377.64" width="6.7" height="24.37" fill="#8c8cff"/>
<rect x="538.6" y="377.64" width="13.5" height="24.37" fill="#ff8888"/>
<rect x="552.1" y="377.64" width="9.2" height="24.37" fill="#8c8cff"/>
<rect x="561.3" y="377.64" width="16.5" height="24.37" fill="#ff8888"/>
<rect x="577.8" y="377.64" width="2.9" height="24.37" fill="#8c8cff"/>
<rect x="580.7" y="377.64" width="9.7" height="24.37" fill="#ff8888"/>
<rect x="590.4" y="377.64" width="38.1" height="24.37" fill="#8c8cff"/>
<rect x="628.5" y="377.64" width="4" height="24.37" fill="#ff8888"/>
<rect x="632.5" y="377.64" width="2.7" height="24.37" fill="#8c8cff"/>
<rect x="636.2" y="377.64" width="4" height="24.37" fill="#8c8cff"/>
<rect x="640.2" y="377.64" width="1.9" height="24.37" fill="#ff8888"/>
<rect x="642.1" y="377.64" width="5.8" height="24.37" fill="#8c8cff"/>
<rect x="647.9" y="377.64" width="2.2" height="24.37" fill="#ff8888"/>
<rect x="650.1" y="377.64" width="0.9" height="24.37" fill="#8c8cff"/>
<rect x="651" y="377.64" width="13" height="24.37" fill="#ff8888"/>
<rect x="635.2" y="377.64" width="1.1" height="24.37" fill="#fff"/>
<line x1="634.9" y1="388.55" x2="636.7" y2="388.55" stroke="#000" stroke-width="0.9"/>
<polygon points="74.9,377.24 76.06,382.64 76.9,387.64 77.74,382.64 78.9,377.24" fill="#fff" stroke="#000" stroke-width="0.9" stroke-linejoin="round"/>
<polygon points="275.8,377.24 276.96,383.94 277.8,390.24 278.64,383.94 279.8,377.24" fill="#fff" stroke="#000" stroke-width="0.9" stroke-linejoin="round"/>
<polygon points="314.8,377.24 315.96,384.14 316.8,390.64 317.64,384.14 318.8,377.24" fill="#fff" stroke="#000" stroke-width="0.9" stroke-linejoin="round"/>
<polygon points="381.4,377.24 382.62,388.55 383.5,399.46 384.38,388.55 385.6,377.24" fill="#fff" stroke="#000" stroke-width="0.9" stroke-linejoin="round"/>
<polygon points="421.2,377.24 422.07,383.64 422.7,389.64 423.33,383.64 424.2,377.24" fill="#fff" stroke="#000" stroke-width="0.9" stroke-linejoin="round"/>
<polygon points="455.3,377.24 456.63,388.55 457.6,399.46 458.57,388.55 459.9,377.24" fill="#fff" stroke="#000" stroke-width="0.9" stroke-linejoin="round"/>
<polygon points="54.6,398.21 658.2,398.21 658.2,397.06 664.5,399.46 658.2,401.86 658.2,400.71 54.6,400.71" fill="#c4c4c4"/>
<text x="666.9" y="382.54" class="pc">100%</text>
<text x="666.9" y="402.46" class="pc">50%</text>
<rect x="53.6" y="319.95" width="611.8" height="2.5" fill="#000"/>
<rect x="53.6" y="322.45" width="611.8" height="0.55" fill="#000" opacity="0.75"/>
<rect x="53.6" y="347.32" width="611.8" height="2.5" fill="#000"/>
<rect x="53.6" y="349.82" width="611.8" height="0.55" fill="#000" opacity="0.75"/>
<rect x="53.6" y="374.69" width="611.8" height="2.5" fill="#000"/>
<rect x="53.6" y="377.19" width="611.8" height="0.55" fill="#000" opacity="0.75"/>
<rect x="53.6" y="402.11" width="611.8" height="2" fill="#000"/>
<rect x="53.6" y="320" width="1.8" height="84.01" fill="#000"/>
<rect x="663.6" y="320" width="1.8" height="84.01" fill="#000"/>
<ellipse cx="71" cy="322.7" rx="1.1" ry="0.75" fill="#fff" stroke="#000" stroke-width="0.75"/>
<ellipse cx="81.5" cy="322.7" rx="1.1" ry="0.75" fill="#fff" stroke="#000" stroke-width="0.75"/>
<ellipse cx="165.7" cy="322.7" rx="1.1" ry="0.75" fill="#fff" stroke="#000" stroke-width="0.75"/>
<ellipse cx="219.4" cy="322.7" rx="1.1" ry="0.75" fill="#fff" stroke="#000" stroke-width="0.75"/>
<ellipse cx="230.4" cy="322.7" rx="1.1" ry="0.75" fill="#fff" stroke="#000" stroke-width="0.75"/>
<ellipse cx="299.3" cy="322.7" rx="1.1" ry="0.75" fill="#fff" stroke="#000" stroke-width="0.75"/>
<ellipse cx="323.4" cy="322.7" rx="1.1" ry="0.75" fill="#fff" stroke="#000" stroke-width="0.75"/>
<ellipse cx="343.7" cy="322.7" rx="1.1" ry="0.75" fill="#fff" stroke="#000" stroke-width="0.75"/>
<ellipse cx="374.3" cy="322.7" rx="1.1" ry="0.75" fill="#fff" stroke="#000" stroke-width="0.75"/>
<ellipse cx="378.5" cy="322.7" rx="1.1" ry="0.75" fill="#fff" stroke="#000" stroke-width="0.75"/>
<ellipse cx="428.4" cy="322.7" rx="1.1" ry="0.75" fill="#fff" stroke="#000" stroke-width="0.75"/>
<ellipse cx="465.7" cy="322.7" rx="1.1" ry="0.75" fill="#fff" stroke="#000" stroke-width="0.75"/>
<ellipse cx="495.1" cy="322.7" rx="1.1" ry="0.75" fill="#fff" stroke="#000" stroke-width="0.75"/>
<ellipse cx="513.5" cy="322.7" rx="1.1" ry="0.75" fill="#fff" stroke="#000" stroke-width="0.75"/>
<ellipse cx="520.3" cy="322.7" rx="1.1" ry="0.75" fill="#fff" stroke="#000" stroke-width="0.75"/>
<ellipse cx="524.3" cy="322.7" rx="1.1" ry="0.75" fill="#fff" stroke="#000" stroke-width="0.75"/>
<ellipse cx="543.2" cy="322.7" rx="1.1" ry="0.75" fill="#fff" stroke="#000" stroke-width="0.75"/>
<ellipse cx="165.7" cy="350.07" rx="1.1" ry="0.75" fill="#fff" stroke="#000" stroke-width="0.75"/>
<ellipse cx="175.5" cy="350.07" rx="1.6" ry="0.75" fill="#fff" stroke="#000" stroke-width="0.75"/>
<ellipse cx="219.4" cy="350.07" rx="1.1" ry="0.75" fill="#fff" stroke="#000" stroke-width="0.75"/>
<ellipse cx="299.3" cy="350.07" rx="1.1" ry="0.75" fill="#fff" stroke="#000" stroke-width="0.75"/>
<ellipse cx="323.4" cy="350.07" rx="1.1" ry="0.75" fill="#fff" stroke="#000" stroke-width="0.75"/>
<ellipse cx="374.3" cy="350.07" rx="1.1" ry="0.75" fill="#fff" stroke="#000" stroke-width="0.75"/>
<ellipse cx="378.5" cy="350.07" rx="1.1" ry="0.75" fill="#fff" stroke="#000" stroke-width="0.75"/>
<ellipse cx="428.4" cy="350.07" rx="1.1" ry="0.75" fill="#fff" stroke="#000" stroke-width="0.75"/>
<ellipse cx="513.5" cy="350.07" rx="1.1" ry="0.75" fill="#fff" stroke="#000" stroke-width="0.75"/>
<ellipse cx="520.3" cy="350.07" rx="1.1" ry="0.75" fill="#fff" stroke="#000" stroke-width="0.75"/>
<ellipse cx="175.5" cy="377.44" rx="1.6" ry="0.75" fill="#fff" stroke="#000" stroke-width="0.75"/>
<ellipse cx="219.4" cy="377.44" rx="1.1" ry="0.75" fill="#fff" stroke="#000" stroke-width="0.75"/>
<ellipse cx="323.4" cy="377.44" rx="1.1" ry="0.75" fill="#fff" stroke="#000" stroke-width="0.75"/>
<line x1="80.29" y1="404.11" x2="80.29" y2="406.81" stroke="#000" stroke-width="0.9"/>
<text x="80.84" y="414.71" class="ax" text-anchor="middle">51k</text>
<line x1="116.72" y1="404.11" x2="116.72" y2="405.61" stroke="#000" stroke-width="0.9"/>
<line x1="153.16" y1="404.11" x2="153.16" y2="406.81" stroke="#000" stroke-width="0.9"/>
<text x="153.71" y="414.71" class="ax" text-anchor="middle">54k</text>
<line x1="189.59" y1="404.11" x2="189.59" y2="405.61" stroke="#000" stroke-width="0.9"/>
<line x1="226.03" y1="404.11" x2="226.03" y2="406.81" stroke="#000" stroke-width="0.9"/>
<text x="226.58" y="414.71" class="ax" text-anchor="middle">57k</text>
<line x1="262.47" y1="404.11" x2="262.47" y2="405.61" stroke="#000" stroke-width="0.9"/>
<line x1="298.9" y1="404.11" x2="298.9" y2="406.81" stroke="#000" stroke-width="0.9"/>
<text x="299.45" y="414.71" class="ax" text-anchor="middle">60k</text>
<line x1="335.33" y1="404.11" x2="335.33" y2="405.61" stroke="#000" stroke-width="0.9"/>
<line x1="371.77" y1="404.11" x2="371.77" y2="406.81" stroke="#000" stroke-width="0.9"/>
<text x="372.32" y="414.71" class="ax" text-anchor="middle">63k</text>
<line x1="408.2" y1="404.11" x2="408.2" y2="405.61" stroke="#000" stroke-width="0.9"/>
<line x1="444.64" y1="404.11" x2="444.64" y2="406.81" stroke="#000" stroke-width="0.9"/>
<text x="445.19" y="414.71" class="ax" text-anchor="middle">66k</text>
<line x1="481.07" y1="404.11" x2="481.07" y2="405.61" stroke="#000" stroke-width="0.9"/>
<line x1="517.51" y1="404.11" x2="517.51" y2="406.81" stroke="#000" stroke-width="0.9"/>
<text x="518.06" y="414.71" class="ax" text-anchor="middle">69k</text>
<line x1="553.94" y1="404.11" x2="553.94" y2="405.61" stroke="#000" stroke-width="0.9"/>
<line x1="590.38" y1="404.11" x2="590.38" y2="406.81" stroke="#000" stroke-width="0.9"/>
<text x="590.93" y="414.71" class="ax" text-anchor="middle">72k</text>
<line x1="626.81" y1="404.11" x2="626.81" y2="405.61" stroke="#000" stroke-width="0.9"/>
<line x1="663.25" y1="404.11" x2="663.25" y2="406.81" stroke="#000" stroke-width="0.9"/>
<text x="663.8" y="414.71" class="ax" text-anchor="middle">75k</text>
<polygon points="127.6,290.4 133.9,287.55 133.9,289 165.9,289 165.9,291.8 133.9,291.8 133.9,293.25" fill="#7f7f7f"/>
<polygon points="406.2,290.4 412.5,287.55 412.5,289 413.7,289 413.7,291.8 412.5,291.8 412.5,293.25" fill="#7f7f7f"/>
<polygon points="525.9,290.4 529.8,287.65 529.8,293.15" fill="#7f7f7f"/>
<polygon points="55.8,303.9 62.1,301.05 62.1,302.5 62.5,302.5 62.5,305.3 62.1,305.3 62.1,306.75" fill="#7f7f7f"/>
<polygon points="62.5,303.9 68.8,301.05 68.8,302.5 69.4,302.5 69.4,305.3 68.8,305.3 68.8,306.75" fill="#7f7f7f"/>
<polygon points="92.2,303.9 98.5,301.05 98.5,302.5 108.3,302.5 108.3,305.3 98.5,305.3 98.5,306.75" fill="#7f7f7f"/>
<polygon points="113.8,303.9 112,301.15 112,306.65" fill="#7f7f7f"/>
<polygon points="119.2,303.9 125.5,301.05 125.5,302.5 130.2,302.5 130.2,305.3 125.5,305.3 125.5,306.75" fill="#7f7f7f"/>
<polygon points="220.2,303.9 213.9,301.05 213.9,302.5 183.4,302.5 183.4,305.3 213.9,305.3 213.9,306.75" fill="#7f7f7f"/>
<polygon points="272.9,303.9 266.6,301.05 266.6,302.5 235.3,302.5 235.3,305.3 266.6,305.3 266.6,306.75" fill="#7f7f7f"/>
<polygon points="286.4,303.9 282.9,301.15 282.9,306.65" fill="#7f7f7f"/>
<polygon points="310.9,303.9 304.6,301.05 304.6,302.5 296.2,302.5 296.2,305.3 304.6,305.3 304.6,306.75" fill="#7f7f7f"/>
<polygon points="341.2,303.9 334.9,301.05 334.9,302.5 322.5,302.5 322.5,305.3 334.9,305.3 334.9,306.75" fill="#7f7f7f"/>
<polygon points="370,303.9 363.7,301.05 363.7,302.5 344.9,302.5 344.9,305.3 363.7,305.3 363.7,306.75" fill="#7f7f7f"/>
<polygon points="394.5,303.9 398,301.15 398,306.65" fill="#7f7f7f"/>
<polygon points="400,303.9 404,301.15 404,306.65" fill="#7f7f7f"/>
<polygon points="404,303.9 407.5,301.15 407.5,306.65" fill="#7f7f7f"/>
<polygon points="444.8,296.4 447.5,293.65 447.5,299.15" fill="#7f7f7f"/>
<polygon points="435.8,303.9 432.3,301.15 432.3,306.65" fill="#7f7f7f"/>
<polygon points="442.4,303.9 438.9,301.15 438.9,306.65" fill="#7f7f7f"/>
<polygon points="450.7,303.9 453.5,301.15 453.5,306.65" fill="#7f7f7f"/>
<polygon points="463.8,303.9 460.6,301.15 460.6,306.65" fill="#7f7f7f"/>
<polygon points="481,303.9 475.2,301.15 475.2,306.65" fill="#7f7f7f"/>
<polygon points="488.5,303.9 484,301.15 484,306.65" fill="#7f7f7f"/>
<polygon points="492.7,303.9 488.5,301.15 488.5,306.65" fill="#7f7f7f"/>
<polygon points="497.1,303.9 503.4,301.05 503.4,302.5 507.6,302.5 507.6,305.3 503.4,305.3 503.4,306.75" fill="#7f7f7f"/>
<polygon points="526,303.9 529.8,301.15 529.8,306.65" fill="#7f7f7f"/>
<polygon points="531.5,303.9 537.8,301.05 537.8,302.5 580.9,302.5 580.9,305.3 537.8,305.3 537.8,306.75" fill="#7f7f7f"/>
<polygon points="628.7,303.9 622.4,301.05 622.4,302.5 590.4,302.5 590.4,305.3 622.4,305.3 622.4,306.75" fill="#7f7f7f"/>
<polygon points="635.5,303.9 632.1,301.15 632.1,306.65" fill="#7f7f7f"/>
<polygon points="636.4,303.9 640.1,301.15 640.1,306.65" fill="#7f7f7f"/>
<polygon points="647.4,303.9 642.5,301.15 642.5,306.65" fill="#7f7f7f"/>
<polygon points="664,303.9 657.7,301.05 657.7,302.5 650.2,302.5 650.2,305.3 657.7,305.3 657.7,306.75" fill="#7f7f7f"/>
<text transform="translate(138.4,285.2) scale(0.885,1)" font-size="8.61" class="gl">atpB</text>
<text transform="translate(401,285.5) scale(0.885,1)" font-size="8.61" class="gl">psbE</text>
<text transform="translate(516.6,285.2) scale(0.885,1)" font-size="8.61" class="gl">rps12</text>
<text transform="translate(425.6,289.9) scale(0.885,1)" font-size="8.61" class="gl">trnW-CCA</text>
<text transform="translate(47.4,299.2) scale(0.885,1)" font-size="8.61" class="gl">ndhK</text>
<text transform="translate(80.6,299.2) scale(0.885,1)" font-size="8.61" class="gl">trnV-UAC</text>
<text transform="translate(117.1,299.2) scale(0.885,1)" font-size="8.61" class="gl">atpE</text>
<text transform="translate(194,299.2) scale(0.885,1)" font-size="8.61" class="gl">rbcL</text>
<text transform="translate(244.9,299.2) scale(0.885,1)" font-size="8.61" class="gl">accD</text>
<text transform="translate(277,299.2) scale(0.885,1)" font-size="8.61" class="gl">psaI</text>
<text transform="translate(295.7,299.2) scale(0.885,1)" font-size="8.61" class="gl">ycf4</text>
<text transform="translate(321.1,299.2) scale(0.885,1)" font-size="8.61" class="gl">cemA</text>
<text transform="translate(348.4,299.2) scale(0.885,1)" font-size="8.61" class="gl">petA</text>
<text transform="translate(387.8,299.2) scale(0.885,1)" font-size="8.61" class="gl">psbJ</text>
<text transform="translate(405,299.2) scale(0.885,1)" font-size="8.61" class="gl">psbF</text>
<text transform="translate(425.6,299.5) scale(0.885,1)" font-size="8.61" class="gl">petL</text>
<text transform="translate(492.2,299.5) scale(0.885,1)" font-size="8.61" class="gl">rpl20</text>
<text transform="translate(516.6,299.5) scale(0.885,1)" font-size="8.61" class="gl">rps12</text>
<text transform="translate(549,299.5) scale(0.885,1)" font-size="8.61" class="gl">clpP</text>
<text transform="translate(599.9,299.5) scale(0.885,1)" font-size="8.61" class="gl">psbB</text>
<text transform="translate(624.5,299.5) scale(0.885,1)" font-size="8.61" class="gl">psbT</text>
<text transform="translate(642.1,299.5) scale(0.885,1)" font-size="8.61" class="gl">psbH</text>
<text x="455" y="298.3" font-size="5.9" fill="#111" stroke="#111" stroke-width="0.12">psaJ</text>
<text x="470.8" y="298.3" font-size="5.9" fill="#111" stroke="#111" stroke-width="0.12">rpl33</text>
<text transform="translate(54,312.1) scale(0.885,1)" font-size="8.61" class="gl">ndhC</text>
<text transform="translate(93.4,312.1) scale(0.885,1)" font-size="8.61" class="gl">trnM-CAU</text>
<text transform="translate(392.7,312.1) scale(0.885,1)" font-size="8.61" class="gl">psbL</text>
<text transform="translate(477.8,312.7) scale(0.885,1)" font-size="8.61" class="gl">rps18</text>
<text transform="translate(627.8,312.6) scale(0.885,1)" font-size="8.61" class="gl">psbN</text>
<text transform="translate(648.7,312.6) scale(0.885,1)" font-size="8.61" class="gl">petB</text>
<text x="433.7" y="310" font-size="4.8" fill="#111" stroke="#111" stroke-width="0.14">petG</text>
<text x="445.9" y="310" font-size="4.8" fill="#111" stroke="#111" stroke-width="0.14">trnP-UGG</text>
<rect x="60.5" y="450.7" width="16.4" height="7.7" fill="#8c8cff"/>
<rect x="81.1" y="450.7" width="1.1" height="7.7" fill="#8c8cff"/>
<rect x="97.9" y="450.7" width="12.4" height="7.7" fill="#8c8cff"/>
<rect x="113.1" y="450.7" width="25.4" height="7.7" fill="#8c8cff"/>
<rect x="140" y="450.7" width="10" height="7.7" fill="#8c8cff"/>
<rect x="151.5" y="450.7" width="3.4" height="7.7" fill="#8c8cff"/>
<rect x="156.9" y="450.7" width="6.1" height="7.7" fill="#8c8cff"/>
<rect x="164.9" y="450.7" width="12.2" height="7.7" fill="#8c8cff"/>
<rect x="179.3" y="450.7" width="10.3" height="7.7" fill="#8c8cff"/>
<rect x="192.3" y="450.7" width="9.6" height="7.7" fill="#8c8cff"/>
<rect x="223.4" y="450.7" width="1.1" height="7.7" fill="#8c8cff"/>
<rect x="226.2" y="450.7" width="28.7" height="7.7" fill="#8c8cff"/>
<rect x="256.1" y="450.7" width="20.5" height="7.7" fill="#8c8cff"/>
<rect x="291.1" y="450.7" width="19.2" height="7.7" fill="#8c8cff"/>
<rect x="312.3" y="450.7" width="2.4" height="7.7" fill="#78f5f5"/>
<rect x="316.6" y="450.7" width="167" height="7.7" fill="#8c8cff"/>
<rect x="485.5" y="450.7" width="7" height="7.7" fill="#8c8cff"/>
<rect x="497.4" y="450.7" width="2.7" height="7.7" fill="#78f5f5"/>
<rect x="513" y="450.7" width="18.9" height="7.7" fill="#8c8cff"/>
<rect x="547.3" y="450.7" width="20.8" height="7.7" fill="#8c8cff"/>
<rect x="572.9" y="450.7" width="13" height="7.7" fill="#8c8cff"/>
<rect x="643.9" y="450.7" width="2" height="7.7" fill="#78f5f5"/>
<rect x="650.8" y="450.7" width="13.2" height="7.7" fill="#78f5f5"/>
<rect x="55.3" y="461.7" width="5.2" height="24.37" fill="#ff8888"/>
<rect x="60.5" y="461.7" width="16.4" height="24.37" fill="#8c8cff"/>
<rect x="76.9" y="461.7" width="4.2" height="24.37" fill="#ff8888"/>
<rect x="81.1" y="461.7" width="1.1" height="24.37" fill="#8c8cff"/>
<rect x="82.2" y="461.7" width="15.7" height="24.37" fill="#ff8888"/>
<rect x="97.9" y="461.7" width="12.4" height="24.37" fill="#8c8cff"/>
<rect x="110.3" y="461.7" width="2.8" height="24.37" fill="#ff8888"/>
<rect x="113.1" y="461.7" width="25.4" height="24.37" fill="#8c8cff"/>
<rect x="140" y="461.7" width="10" height="24.37" fill="#8c8cff"/>
<rect x="150" y="461.7" width="1.5" height="24.37" fill="#ff8888"/>
<rect x="151.5" y="461.7" width="3.4" height="24.37" fill="#8c8cff"/>
<rect x="156.9" y="461.7" width="6.1" height="24.37" fill="#8c8cff"/>
<rect x="163" y="461.7" width="1.9" height="24.37" fill="#ff8888"/>
<rect x="164.9" y="461.7" width="12.2" height="24.37" fill="#8c8cff"/>
<rect x="177.1" y="461.7" width="2.2" height="24.37" fill="#ff8888"/>
<rect x="179.3" y="461.7" width="10.3" height="24.37" fill="#8c8cff"/>
<rect x="189.6" y="461.7" width="2.7" height="24.37" fill="#ff8888"/>
<rect x="192.3" y="461.7" width="9.6" height="24.37" fill="#8c8cff"/>
<rect x="201.9" y="461.7" width="21.5" height="24.37" fill="#ff8888"/>
<rect x="223.4" y="461.7" width="1.1" height="24.37" fill="#8c8cff"/>
<rect x="224.5" y="461.7" width="1.7" height="24.37" fill="#ff8888"/>
<rect x="226.2" y="461.7" width="28.7" height="24.37" fill="#8c8cff"/>
<rect x="256.1" y="461.7" width="20.5" height="24.37" fill="#8c8cff"/>
<rect x="276.6" y="461.7" width="14.5" height="24.37" fill="#ff8888"/>
<rect x="291.1" y="461.7" width="19.2" height="24.37" fill="#8c8cff"/>
<rect x="310.3" y="461.7" width="2" height="24.37" fill="#ff8888"/>
<rect x="312.3" y="461.7" width="2.4" height="24.37" fill="#78f5f5"/>
<rect x="316.6" y="461.7" width="167" height="24.37" fill="#8c8cff"/>
<rect x="485.5" y="461.7" width="7" height="24.37" fill="#8c8cff"/>
<rect x="492.5" y="461.7" width="4.9" height="24.37" fill="#ff8888"/>
<rect x="497.4" y="461.7" width="2.7" height="24.37" fill="#78f5f5"/>
<rect x="500.1" y="461.7" width="12.9" height="24.37" fill="#ff8888"/>
<rect x="513" y="461.7" width="18.9" height="24.37" fill="#8c8cff"/>
<rect x="531.9" y="461.7" width="15.4" height="24.37" fill="#ff8888"/>
<rect x="547.3" y="461.7" width="20.8" height="24.37" fill="#8c8cff"/>
<rect x="568.1" y="461.7" width="4.8" height="24.37" fill="#ff8888"/>
<rect x="572.9" y="461.7" width="13" height="24.37" fill="#8c8cff"/>
<rect x="585.9" y="461.7" width="58" height="24.37" fill="#ff8888"/>
<rect x="643.9" y="461.7" width="2" height="24.37" fill="#78f5f5"/>
<rect x="645.9" y="461.7" width="4.9" height="24.37" fill="#ff8888"/>
<rect x="650.8" y="461.7" width="13.2" height="24.37" fill="#78f5f5"/>
<rect x="138.5" y="461.7" width="1.5" height="24.37" fill="#fff"/>
<rect x="154.9" y="461.7" width="2" height="24.37" fill="#fff"/>
<rect x="254.9" y="461.7" width="1.2" height="24.37" fill="#fff"/>
<rect x="314.7" y="461.7" width="1.9" height="24.37" fill="#fff"/>
<rect x="483.6" y="461.7" width="1.9" height="24.37" fill="#fff"/>
<line x1="138.3" y1="472.61" x2="140.1" y2="472.61" stroke="#000" stroke-width="0.9"/>
<line x1="155" y1="472.61" x2="156.8" y2="472.61" stroke="#000" stroke-width="0.9"/>
<line x1="254.6" y1="472.61" x2="256.4" y2="472.61" stroke="#000" stroke-width="0.9"/>
<line x1="483.6" y1="472.61" x2="485.4" y2="472.61" stroke="#000" stroke-width="0.9"/>
<polygon points="85.6,461.3 86.64,468.2 87.4,474.7 88.16,468.2 89.2,461.3" fill="#fff" stroke="#000" stroke-width="0.9" stroke-linejoin="round"/>
<polygon points="205.9,461.3 207.23,472.61 208.2,483.52 209.17,472.61 210.5,461.3" fill="#fff" stroke="#000" stroke-width="0.9" stroke-linejoin="round"/>
<polygon points="222.9,461.3 223.6,467.7 224.1,473.7 224.6,467.7 225.3,461.3" fill="#fff" stroke="#000" stroke-width="0.9" stroke-linejoin="round"/>
<polygon points="259.4,461.3 260.85,472.61 261.9,483.52 262.95,472.61 264.4,461.3" fill="#fff" stroke="#000" stroke-width="0.9" stroke-linejoin="round"/>
<polygon points="438,461.3 439.16,472.61 440,483.52 440.84,472.61 442,461.3" fill="#fff" stroke="#000" stroke-width="0.9" stroke-linejoin="round"/>
<polygon points="625.1,461.3 626.14,467.7 626.9,473.7 627.66,467.7 628.7,461.3" fill="#fff" stroke="#000" stroke-width="0.9" stroke-linejoin="round"/>
<polygon points="174,461.3 176.2,462.3 177.6,481.2 179,461.3" fill="#fff" stroke="#000" stroke-width="0.9" stroke-linejoin="round"/>
<polygon points="54.6,482.27 658.2,482.27 658.2,481.12 664.5,483.52 658.2,485.92 658.2,484.77 54.6,484.77" fill="#c4c4c4"/>
<text x="666.9" y="466.6" class="pc">100%</text>
<text x="666.9" y="486.52" class="pc">50%</text>
<rect x="55.3" y="489.07" width="5.2" height="24.37" fill="#ff8888"/>
<rect x="60.5" y="489.07" width="16.4" height="24.37" fill="#8c8cff"/>
<rect x="76.9" y="489.07" width="4.2" height="24.37" fill="#ff8888"/>
<rect x="81.1" y="489.07" width="1.1" height="24.37" fill="#8c8cff"/>
<rect x="82.2" y="489.07" width="15.7" height="24.37" fill="#ff8888"/>
<rect x="97.9" y="489.07" width="12.4" height="24.37" fill="#8c8cff"/>
<rect x="110.3" y="489.07" width="2.8" height="24.37" fill="#ff8888"/>
<rect x="113.1" y="489.07" width="25.4" height="24.37" fill="#8c8cff"/>
<rect x="140" y="489.07" width="10" height="24.37" fill="#8c8cff"/>
<rect x="150" y="489.07" width="1.5" height="24.37" fill="#ff8888"/>
<rect x="151.5" y="489.07" width="3.4" height="24.37" fill="#8c8cff"/>
<rect x="156.9" y="489.07" width="6.1" height="24.37" fill="#8c8cff"/>
<rect x="163" y="489.07" width="1.9" height="24.37" fill="#ff8888"/>
<rect x="164.9" y="489.07" width="12.2" height="24.37" fill="#8c8cff"/>
<rect x="177.1" y="489.07" width="2.2" height="24.37" fill="#ff8888"/>
<rect x="179.3" y="489.07" width="10.3" height="24.37" fill="#8c8cff"/>
<rect x="189.6" y="489.07" width="2.7" height="24.37" fill="#ff8888"/>
<rect x="192.3" y="489.07" width="9.6" height="24.37" fill="#8c8cff"/>
<rect x="201.9" y="489.07" width="21.5" height="24.37" fill="#ff8888"/>
<rect x="223.4" y="489.07" width="1.1" height="24.37" fill="#8c8cff"/>
<rect x="224.5" y="489.07" width="1.7" height="24.37" fill="#ff8888"/>
<rect x="226.2" y="489.07" width="28.7" height="24.37" fill="#8c8cff"/>
<rect x="256.1" y="489.07" width="20.5" height="24.37" fill="#8c8cff"/>
<rect x="276.6" y="489.07" width="14.5" height="24.37" fill="#ff8888"/>
<rect x="291.1" y="489.07" width="19.2" height="24.37" fill="#8c8cff"/>
<rect x="310.3" y="489.07" width="2" height="24.37" fill="#ff8888"/>
<rect x="312.3" y="489.07" width="2.4" height="24.37" fill="#78f5f5"/>
<rect x="316.6" y="489.07" width="167" height="24.37" fill="#8c8cff"/>
<rect x="485.5" y="489.07" width="7" height="24.37" fill="#8c8cff"/>
<rect x="492.5" y="489.07" width="4.9" height="24.37" fill="#ff8888"/>
<rect x="497.4" y="489.07" width="2.7" height="24.37" fill="#78f5f5"/>
<rect x="500.1" y="489.07" width="12.9" height="24.37" fill="#ff8888"/>
<rect x="513" y="489.07" width="18.9" height="24.37" fill="#8c8cff"/>
<rect x="531.9" y="489.07" width="15.4" height="24.37" fill="#ff8888"/>
<rect x="547.3" y="489.07" width="20.8" height="24.37" fill="#8c8cff"/>
<rect x="568.1" y="489.07" width="4.8" height="24.37" fill="#ff8888"/>
<rect x="572.9" y="489.07" width="13" height="24.37" fill="#8c8cff"/>
<rect x="585.9" y="489.07" width="58" height="24.37" fill="#ff8888"/>
<rect x="643.9" y="489.07" width="2" height="24.37" fill="#78f5f5"/>
<rect x="645.9" y="489.07" width="4.9" height="24.37" fill="#ff8888"/>
<rect x="650.8" y="489.07" width="13.2" height="24.37" fill="#78f5f5"/>
<rect x="138.5" y="489.07" width="1.5" height="24.37" fill="#fff"/>
<rect x="154.9" y="489.07" width="2" height="24.37" fill="#fff"/>
<rect x="254.9" y="489.07" width="1.2" height="24.37" fill="#fff"/>
<rect x="314.7" y="489.07" width="1.9" height="24.37" fill="#fff"/>
<rect x="483.6" y="489.07" width="1.9" height="24.37" fill="#fff"/>
<line x1="138.3" y1="499.98" x2="140.1" y2="499.98" stroke="#000" stroke-width="0.9"/>
<line x1="155" y1="499.98" x2="156.8" y2="499.98" stroke="#000" stroke-width="0.9"/>
<line x1="254.6" y1="499.98" x2="256.4" y2="499.98" stroke="#000" stroke-width="0.9"/>
<line x1="483.6" y1="499.98" x2="485.4" y2="499.98" stroke="#000" stroke-width="0.9"/>
<polygon points="85.6,488.67 86.64,495.57 87.4,502.07 88.16,495.57 89.2,488.67" fill="#fff" stroke="#000" stroke-width="0.9" stroke-linejoin="round"/>
<polygon points="205.9,488.67 207.23,499.98 208.2,510.89 209.17,499.98 210.5,488.67" fill="#fff" stroke="#000" stroke-width="0.9" stroke-linejoin="round"/>
<polygon points="222.9,488.67 223.6,495.07 224.1,501.07 224.6,495.07 225.3,488.67" fill="#fff" stroke="#000" stroke-width="0.9" stroke-linejoin="round"/>
<polygon points="259.4,488.67 260.85,499.98 261.9,510.89 262.95,499.98 264.4,488.67" fill="#fff" stroke="#000" stroke-width="0.9" stroke-linejoin="round"/>
<polygon points="438,488.67 439.16,499.98 440,510.89 440.84,499.98 442,488.67" fill="#fff" stroke="#000" stroke-width="0.9" stroke-linejoin="round"/>
<polygon points="625.1,488.67 626.14,495.07 626.9,501.07 627.66,495.07 628.7,488.67" fill="#fff" stroke="#000" stroke-width="0.9" stroke-linejoin="round"/>
<polygon points="174,488.67 176.2,489.67 177.6,508.57 179,488.67" fill="#fff" stroke="#000" stroke-width="0.9" stroke-linejoin="round"/>
<polygon points="54.6,509.64 658.2,509.64 658.2,508.49 664.5,510.89 658.2,513.29 658.2,512.14 54.6,512.14" fill="#c4c4c4"/>
<text x="666.9" y="493.97" class="pc">100%</text>
<text x="666.9" y="513.89" class="pc">50%</text>
<rect x="55.3" y="516.44" width="5.2" height="24.37" fill="#ff8888"/>
<rect x="60.5" y="516.44" width="16.4" height="24.37" fill="#8c8cff"/>
<rect x="76.9" y="516.44" width="4.2" height="24.37" fill="#ff8888"/>
<rect x="81.1" y="516.44" width="1.1" height="24.37" fill="#8c8cff"/>
<rect x="82.2" y="516.44" width="15.7" height="24.37" fill="#ff8888"/>
<rect x="97.9" y="516.44" width="12.4" height="24.37" fill="#8c8cff"/>
<rect x="110.3" y="516.44" width="2.8" height="24.37" fill="#ff8888"/>
<rect x="113.1" y="516.44" width="25.4" height="24.37" fill="#8c8cff"/>
<rect x="140" y="516.44" width="10" height="24.37" fill="#8c8cff"/>
<rect x="150" y="516.44" width="1.5" height="24.37" fill="#ff8888"/>
<rect x="151.5" y="516.44" width="3.4" height="24.37" fill="#8c8cff"/>
<rect x="156.9" y="516.44" width="6.1" height="24.37" fill="#8c8cff"/>
<rect x="163" y="516.44" width="1.9" height="24.37" fill="#ff8888"/>
<rect x="164.9" y="516.44" width="12.2" height="24.37" fill="#8c8cff"/>
<rect x="177.1" y="516.44" width="2.2" height="24.37" fill="#ff8888"/>
<rect x="179.3" y="516.44" width="10.3" height="24.37" fill="#8c8cff"/>
<rect x="189.6" y="516.44" width="2.7" height="24.37" fill="#ff8888"/>
<rect x="192.3" y="516.44" width="9.6" height="24.37" fill="#8c8cff"/>
<rect x="201.9" y="516.44" width="21.5" height="24.37" fill="#ff8888"/>
<rect x="223.4" y="516.44" width="1.1" height="24.37" fill="#8c8cff"/>
<rect x="224.5" y="516.44" width="1.7" height="24.37" fill="#ff8888"/>
<rect x="226.2" y="516.44" width="28.7" height="24.37" fill="#8c8cff"/>
<rect x="256.1" y="516.44" width="20.5" height="24.37" fill="#8c8cff"/>
<rect x="276.6" y="516.44" width="14.5" height="24.37" fill="#ff8888"/>
<rect x="291.1" y="516.44" width="19.2" height="24.37" fill="#8c8cff"/>
<rect x="310.3" y="516.44" width="2" height="24.37" fill="#ff8888"/>
<rect x="312.3" y="516.44" width="2.4" height="24.37" fill="#78f5f5"/>
<rect x="316.6" y="516.44" width="167" height="24.37" fill="#8c8cff"/>
<rect x="485.5" y="516.44" width="7" height="24.37" fill="#8c8cff"/>
<rect x="492.5" y="516.44" width="4.9" height="24.37" fill="#ff8888"/>
<rect x="497.4" y="516.44" width="2.7" height="24.37" fill="#78f5f5"/>
<rect x="500.1" y="516.44" width="12.9" height="24.37" fill="#ff8888"/>
<rect x="513" y="516.44" width="18.9" height="24.37" fill="#8c8cff"/>
<rect x="531.9" y="516.44" width="15.4" height="24.37" fill="#ff8888"/>
<rect x="547.3" y="516.44" width="20.8" height="24.37" fill="#8c8cff"/>
<rect x="568.1" y="516.44" width="4.8" height="24.37" fill="#ff8888"/>
<rect x="572.9" y="516.44" width="13" height="24.37" fill="#8c8cff"/>
<rect x="585.9" y="516.44" width="58" height="24.37" fill="#ff8888"/>
<rect x="643.9" y="516.44" width="2" height="24.37" fill="#78f5f5"/>
<rect x="645.9" y="516.44" width="4.9" height="24.37" fill="#ff8888"/>
<rect x="650.8" y="516.44" width="13.2" height="24.37" fill="#78f5f5"/>
<rect x="138.5" y="516.44" width="1.5" height="24.37" fill="#fff"/>
<rect x="154.9" y="516.44" width="2" height="24.37" fill="#fff"/>
<rect x="254.9" y="516.44" width="1.2" height="24.37" fill="#fff"/>
<rect x="314.7" y="516.44" width="1.9" height="24.37" fill="#fff"/>
<rect x="483.6" y="516.44" width="1.9" height="24.37" fill="#fff"/>
<line x1="138.3" y1="527.35" x2="140.1" y2="527.35" stroke="#000" stroke-width="0.9"/>
<line x1="155" y1="527.35" x2="156.8" y2="527.35" stroke="#000" stroke-width="0.9"/>
<line x1="254.6" y1="527.35" x2="256.4" y2="527.35" stroke="#000" stroke-width="0.9"/>
<line x1="483.6" y1="527.35" x2="485.4" y2="527.35" stroke="#000" stroke-width="0.9"/>
<polygon points="85.6,516.04 86.64,522.94 87.4,529.44 88.16,522.94 89.2,516.04" fill="#fff" stroke="#000" stroke-width="0.9" stroke-linejoin="round"/>
<polygon points="205.9,516.04 207.23,527.35 208.2,538.26 209.17,527.35 210.5,516.04" fill="#fff" stroke="#000" stroke-width="0.9" stroke-linejoin="round"/>
<polygon points="222.9,516.04 223.6,522.44 224.1,528.44 224.6,522.44 225.3,516.04" fill="#fff" stroke="#000" stroke-width="0.9" stroke-linejoin="round"/>
<polygon points="259.4,516.04 260.85,527.35 261.9,538.26 262.95,527.35 264.4,516.04" fill="#fff" stroke="#000" stroke-width="0.9" stroke-linejoin="round"/>
<polygon points="438,516.04 439.16,527.35 440,538.26 440.84,527.35 442,516.04" fill="#fff" stroke="#000" stroke-width="0.9" stroke-linejoin="round"/>
<polygon points="625.1,516.04 626.14,522.44 626.9,528.44 627.66,522.44 628.7,516.04" fill="#fff" stroke="#000" stroke-width="0.9" stroke-linejoin="round"/>
<polygon points="174,516.04 176.2,517.04 177.6,535.94 179,516.04" fill="#fff" stroke="#000" stroke-width="0.9" stroke-linejoin="round"/>
<polygon points="54.6,537.01 658.2,537.01 658.2,535.86 664.5,538.26 658.2,540.66 658.2,539.51 54.6,539.51" fill="#c4c4c4"/>
<text x="666.9" y="521.34" class="pc">100%</text>
<text x="666.9" y="541.26" class="pc">50%</text>
<rect x="53.6" y="458.75" width="611.8" height="2.5" fill="#000"/>
<rect x="53.6" y="461.25" width="611.8" height="0.55" fill="#000" opacity="0.75"/>
<rect x="53.6" y="486.12" width="611.8" height="2.5" fill="#000"/>
<rect x="53.6" y="488.62" width="611.8" height="0.55" fill="#000" opacity="0.75"/>
<rect x="53.6" y="513.49" width="611.8" height="2.5" fill="#000"/>
<rect x="53.6" y="515.99" width="611.8" height="0.55" fill="#000" opacity="0.75"/>
<rect x="53.6" y="540.91" width="611.8" height="2" fill="#000"/>
<rect x="53.6" y="458.8" width="1.8" height="84.01" fill="#000"/>
<rect x="663.6" y="458.8" width="1.8" height="84.01" fill="#000"/>
<ellipse cx="58.9" cy="461.5" rx="1.1" ry="0.75" fill="#fff" stroke="#000" stroke-width="0.75"/>
<ellipse cx="92" cy="461.5" rx="1.1" ry="0.75" fill="#fff" stroke="#000" stroke-width="0.75"/>
<ellipse cx="117.3" cy="461.5" rx="2.1" ry="0.75" fill="#fff" stroke="#000" stroke-width="0.75"/>
<ellipse cx="196.7" cy="461.5" rx="1.1" ry="0.75" fill="#fff" stroke="#000" stroke-width="0.75"/>
<ellipse cx="237.4" cy="461.5" rx="1.1" ry="0.75" fill="#fff" stroke="#000" stroke-width="0.75"/>
<ellipse cx="249" cy="461.5" rx="1.6" ry="0.75" fill="#fff" stroke="#000" stroke-width="0.75"/>
<ellipse cx="373.8" cy="461.5" rx="1.1" ry="0.75" fill="#fff" stroke="#000" stroke-width="0.75"/>
<ellipse cx="382.7" cy="461.5" rx="1.1" ry="0.75" fill="#fff" stroke="#000" stroke-width="0.75"/>
<ellipse cx="58.9" cy="488.87" rx="1.1" ry="0.75" fill="#fff" stroke="#000" stroke-width="0.75"/>
<ellipse cx="117.3" cy="488.87" rx="2.1" ry="0.75" fill="#fff" stroke="#000" stroke-width="0.75"/>
<ellipse cx="196.7" cy="488.87" rx="1.1" ry="0.75" fill="#fff" stroke="#000" stroke-width="0.75"/>
<ellipse cx="249" cy="488.87" rx="1.6" ry="0.75" fill="#fff" stroke="#000" stroke-width="0.75"/>
<ellipse cx="373.8" cy="488.87" rx="1.1" ry="0.75" fill="#fff" stroke="#000" stroke-width="0.75"/>
<ellipse cx="382.7" cy="488.87" rx="1.1" ry="0.75" fill="#fff" stroke="#000" stroke-width="0.75"/>
<ellipse cx="117.3" cy="516.24" rx="2.1" ry="0.75" fill="#fff" stroke="#000" stroke-width="0.75"/>
<ellipse cx="373.8" cy="516.24" rx="1.1" ry="0.75" fill="#fff" stroke="#000" stroke-width="0.75"/>
<ellipse cx="382.7" cy="516.24" rx="1.1" ry="0.75" fill="#fff" stroke="#000" stroke-width="0.75"/>
<line x1="55.7" y1="542.91" x2="55.7" y2="545.61" stroke="#000" stroke-width="0.9"/>
<text x="56.25" y="553.11" class="ax" text-anchor="middle">75k</text>
<line x1="92.14" y1="542.91" x2="92.14" y2="544.41" stroke="#000" stroke-width="0.9"/>
<line x1="128.57" y1="542.91" x2="128.57" y2="545.61" stroke="#000" stroke-width="0.9"/>
<text x="129.12" y="553.11" class="ax" text-anchor="middle">78k</text>
<line x1="165" y1="542.91" x2="165" y2="544.41" stroke="#000" stroke-width="0.9"/>
<line x1="201.44" y1="542.91" x2="201.44" y2="545.61" stroke="#000" stroke-width="0.9"/>
<text x="201.99" y="553.11" class="ax" text-anchor="middle">81k</text>
<line x1="237.88" y1="542.91" x2="237.88" y2="544.41" stroke="#000" stroke-width="0.9"/>
<line x1="274.31" y1="542.91" x2="274.31" y2="545.61" stroke="#000" stroke-width="0.9"/>
<text x="274.86" y="553.11" class="ax" text-anchor="middle">84k</text>
<line x1="310.75" y1="542.91" x2="310.75" y2="544.41" stroke="#000" stroke-width="0.9"/>
<line x1="347.18" y1="542.91" x2="347.18" y2="545.61" stroke="#000" stroke-width="0.9"/>
<text x="347.73" y="553.11" class="ax" text-anchor="middle">87k</text>
<line x1="383.61" y1="542.91" x2="383.61" y2="544.41" stroke="#000" stroke-width="0.9"/>
<line x1="420.05" y1="542.91" x2="420.05" y2="545.61" stroke="#000" stroke-width="0.9"/>
<text x="420.6" y="553.11" class="ax" text-anchor="middle">90k</text>
<line x1="456.48" y1="542.91" x2="456.48" y2="544.41" stroke="#000" stroke-width="0.9"/>
<line x1="492.92" y1="542.91" x2="492.92" y2="545.61" stroke="#000" stroke-width="0.9"/>
<text x="493.47" y="553.11" class="ax" text-anchor="middle">93k</text>
<line x1="529.36" y1="542.91" x2="529.36" y2="544.41" stroke="#000" stroke-width="0.9"/>
<line x1="565.79" y1="542.91" x2="565.79" y2="545.61" stroke="#000" stroke-width="0.9"/>
<text x="566.34" y="553.11" class="ax" text-anchor="middle">96k</text>
<line x1="602.23" y1="542.91" x2="602.23" y2="544.41" stroke="#000" stroke-width="0.9"/>
<line x1="638.66" y1="542.91" x2="638.66" y2="545.61" stroke="#000" stroke-width="0.9"/>
<text x="639.21" y="553.11" class="ax" text-anchor="middle">99k</text>
<polygon points="243.4,429.2 249.7,426.35 249.7,427.8 255,427.8 255,430.6 249.7,430.6 249.7,432.05" fill="#7f7f7f"/>
<polygon points="77.7,442.9 71.4,440.05 71.4,441.5 55.3,441.5 55.3,444.3 71.4,444.3 71.4,445.75" fill="#7f7f7f"/>
<polygon points="110.4,442.9 104.1,440.05 104.1,441.5 81.2,441.5 81.2,444.3 104.1,444.3 104.1,445.75" fill="#7f7f7f"/>
<polygon points="112.7,442.9 119,440.05 119,441.5 139,441.5 139,444.3 119,444.3 119,445.75" fill="#7f7f7f"/>
<polygon points="139.9,442.9 146.2,440.05 146.2,441.5 150.4,441.5 150.4,444.3 146.2,444.3 146.2,445.75" fill="#7f7f7f"/>
<polygon points="151.6,442.9 154.8,440.15 154.8,445.65" fill="#7f7f7f"/>
<polygon points="157,442.9 162.8,440.15 162.8,445.65" fill="#7f7f7f"/>
<polygon points="164.7,442.9 171,440.05 171,441.5 177,441.5 177,444.3 171,444.3 171,445.75" fill="#7f7f7f"/>
<polygon points="179.3,442.9 185.6,440.05 185.6,441.5 189.9,441.5 189.9,444.3 185.6,444.3 185.6,445.75" fill="#7f7f7f"/>
<polygon points="192,442.9 198.3,440.05 198.3,441.5 224.6,441.5 224.6,444.3 198.3,444.3 198.3,445.75" fill="#7f7f7f"/>
<polygon points="226.4,442.9 232.7,440.05 232.7,441.5 243.9,441.5 243.9,444.3 232.7,444.3 232.7,445.75" fill="#7f7f7f"/>
<polygon points="255.6,442.9 261.9,440.05 261.9,441.5 265.5,441.5 265.5,444.3 261.9,444.3 261.9,445.75" fill="#7f7f7f"/>
<polygon points="265.5,442.9 271.8,440.05 271.8,441.5 302.6,441.5 302.6,444.3 271.8,444.3 271.8,445.75" fill="#7f7f7f"/>
<polygon points="302.6,442.9 308.9,440.05 308.9,441.5 309.6,441.5 309.6,444.3 308.9,444.3 308.9,445.75" fill="#7f7f7f"/>
<polygon points="312.8,442.9 314.9,440.15 314.9,445.65" fill="#7f7f7f"/>
<polygon points="483.9,442.9 477.6,440.05 477.6,441.5 316.5,441.5 316.5,444.3 477.6,444.3 477.6,445.75" fill="#7f7f7f"/>
<polygon points="493.5,442.9 487.2,440.05 487.2,441.5 486,441.5 486,444.3 487.2,444.3 487.2,445.75" fill="#7f7f7f"/>
<polygon points="497.8,442.9 500.3,440.15 500.3,445.65" fill="#7f7f7f"/>
<polygon points="512.6,442.9 518.9,440.05 518.9,441.5 567.7,441.5 567.7,444.3 518.9,444.3 518.9,445.75" fill="#7f7f7f"/>
<polygon points="572.4,442.9 578.7,440.05 578.7,441.5 585.7,441.5 585.7,444.3 578.7,444.3 578.7,445.75" fill="#7f7f7f"/>
<polygon points="585.7,442.9 592,440.05 592,441.5 606.2,441.5 606.2,444.3 592,444.3 592,445.75" fill="#7f7f7f"/>
<polygon points="646,442.9 644.2,440.15 644.2,445.65" fill="#7f7f7f"/>
<polygon points="664,442.9 657.7,440.05 657.7,441.5 651.2,441.5 651.2,444.3 657.7,444.3 657.7,445.75" fill="#7f7f7f"/>
<text transform="translate(239.2,423.9) scale(0.885,1)" font-size="8.61" class="gl">rpl22</text>
<text transform="translate(57.9,437.9) scale(0.885,1)" font-size="8.61" class="gl">petB</text>
<text transform="translate(86.8,437.9) scale(0.885,1)" font-size="8.61" class="gl">petD</text>
<text transform="translate(116.9,437.9) scale(0.885,1)" font-size="8.61" class="gl">rpoA</text>
<text transform="translate(142.8,437.5) scale(0.885,1)" font-size="8.61" class="gl">rpl36</text>
<text transform="translate(162.8,437.5) scale(0.885,1)" font-size="8.61" class="gl">rps8</text>
<text transform="translate(198.6,437.5) scale(0.885,1)" font-size="8.61" class="gl">rpl16</text>
<text transform="translate(227.6,437.9) scale(0.885,1)" font-size="8.61" class="gl">rps3</text>
<text transform="translate(249.7,437.9) scale(0.885,1)" font-size="8.61" class="gl">rps19</text>
<text transform="translate(276,437.9) scale(0.885,1)" font-size="8.61" class="gl">rpl2</text>
<text transform="translate(295.6,437.9) scale(0.885,1)" font-size="8.61" class="gl">rpl23</text>
<text transform="translate(392.8,437.5) scale(0.885,1)" font-size="8.61" class="gl">ycf2</text>
<text transform="translate(478.8,437.5) scale(0.885,1)" font-size="8.61" class="gl">ycf15</text>
<text transform="translate(530,437.5) scale(0.885,1)" font-size="8.61" class="gl">ndhB</text>
<text transform="translate(570.6,437.9) scale(0.885,1)" font-size="8.61" class="gl">rps7</text>
<text transform="translate(626.7,437.9) scale(0.885,1)" font-size="8.61" class="gl">trnV-GAC</text>
<text transform="translate(134.7,451.2) scale(0.885,1)" font-size="8.61" class="gl">rps11</text>
<text transform="translate(155.5,451.2) scale(0.885,1)" font-size="8.61" class="gl">infA</text>
<text transform="translate(174.5,451.2) scale(0.885,1)" font-size="8.61" class="gl">rpl14</text>
<text transform="translate(295.6,450.9) scale(0.885,1)" font-size="8.61" class="gl">trnI-CAU</text>
<text transform="translate(480.5,451.2) scale(0.885,1)" font-size="8.61" class="gl">trnL-CAA</text>
<text transform="translate(585.1,451.4) scale(0.885,1)" font-size="8.61" class="gl">rps12</text>
<text transform="translate(647,451.4) scale(0.885,1)" font-size="8.61" class="gl">rrn16</text>
<text x="11.4" y="58.2" class="sb">SBW</text>
<text x="11.4" y="86.3" class="sb">SBR</text>
<text x="11.4" y="114.0" class="sb">SBP</text>
<polygon points="1.1,494.15 4.3,494.15 4.3,493 9.9,495.4 4.3,497.8 4.3,496.65 1.1,496.65" fill="#c8c8c8"/>
<polygon points="1.1,501.15 4.3,501.15 4.3,500 9.9,502.4 4.3,504.8 4.3,503.65 1.1,503.65" fill="#707070"/>
<rect x="0.9" y="507.0" width="6.9" height="6.5" fill="#8c8cff"/>
<rect x="0.9" y="514.7" width="6.9" height="6.5" fill="#78f5f5"/>
<rect x="0.9" y="522.4" width="6.9" height="6.5" fill="#ff8888"/>
<rect x="0.9" y="530.1" width="6.9" height="6.5" fill="#c4c4c4"/>
<text transform="translate(13.3,497.9) scale(0.95,1)" class="lg">contig</text>
<text transform="translate(13.3,505.6) scale(0.95,1)" class="lg">gene</text>
<text transform="translate(13.3,513.1) scale(0.95,1)" class="lg">exon</text>
<text transform="translate(13.3,520.5) scale(0.95,1)" class="lg">UTR</text>
<text transform="translate(13.3,528.3) scale(0.95,1)" class="lg">CNS</text>
<text transform="translate(13.3,535.8) scale(0.95,1)" class="lg">mRNA</text>
</svg></body></html>
